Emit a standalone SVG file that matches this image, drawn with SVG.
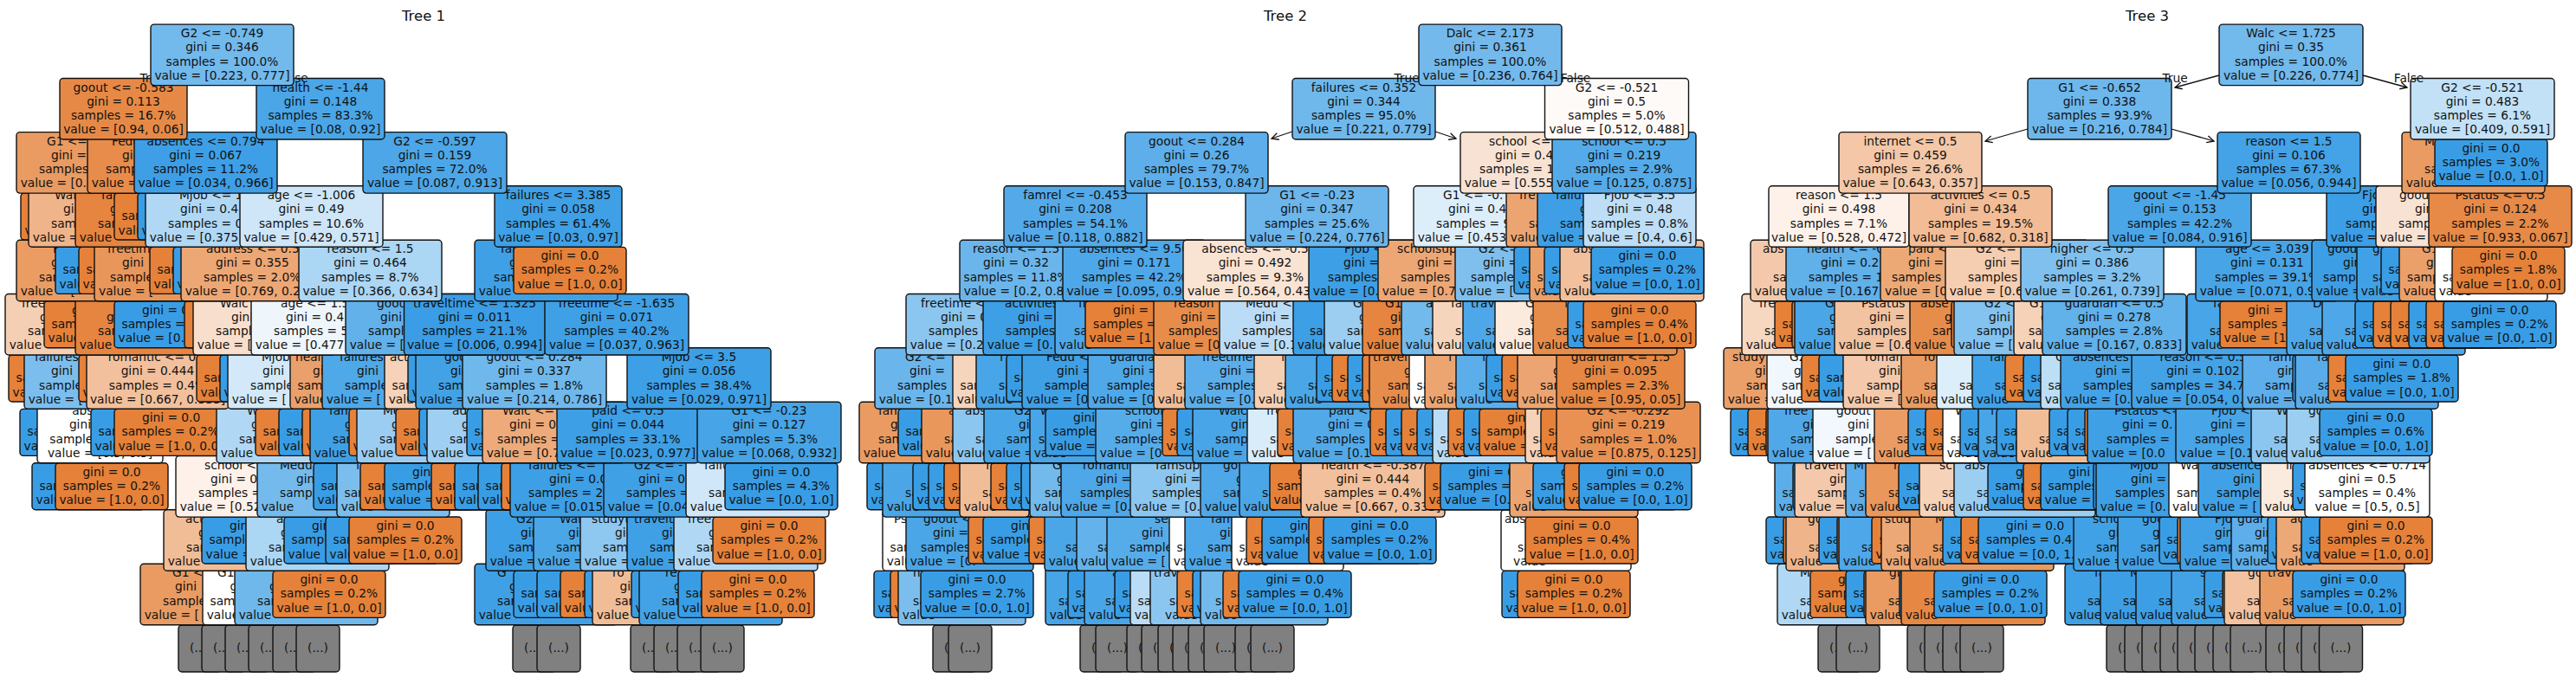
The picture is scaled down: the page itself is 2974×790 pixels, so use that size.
<svg xmlns="http://www.w3.org/2000/svg" width="2974" height="790" viewBox="0 0 2974 790">
<style>
text{font-family:"DejaVu Sans","Liberation Sans",sans-serif;font-size:13.75px;fill:#111}
rect{stroke:#111;stroke-width:1.4;rx:4px}
.c text,text.c{text-anchor:middle}
.o rect{fill:#e58139}
.b rect{fill:#399de5}
.k rect{fill:#808080}
.title{font-size:16.5px}
.arrow{stroke:#111;stroke-width:1.3;fill:none;marker-end:url(#ah)}
</style>
<defs><marker id="ah" markerUnits="userSpaceOnUse" markerWidth="12" markerHeight="12" refX="9" refY="5" orient="auto"><path d="M1 1 9 5 1 9" fill="none" stroke="#111" stroke-width="1.3"/></marker></defs>
<rect width="2974" height="790" style="fill:#fff;stroke:none;rx:0"/>
<text class="title c" x="489" y="24">Tree 1</text>
<text class="title c" x="1484" y="24">Tree 2</text>
<text class="title c" x="2479" y="24">Tree 3</text>
<g id="connectors">
<path class="arrow" d="M1492 152 1468 160"/>
<path class="arrow" d="M1657 152 1681 160"/>
<path class="arrow" d="M2562 87 2511 101"/>
<path class="arrow" d="M2728 87 2779 101"/>
<path class="arrow" d="M2341 149 2292 163"/>
<path class="arrow" d="M2507 149 2556 163"/>
</g>
<g id="tree1">
<g id="a11-1" class="k c" transform="translate(231 749)"><rect x="-25" y="-27" width="50" height="54"/><text y="4">(...)</text></g>
<g id="a11-2" class="k c" transform="translate(258 749)"><rect x="-25" y="-27" width="50" height="54"/><text y="4">(...)</text></g>
<g id="a11-3" class="k c" transform="translate(285 749)"><rect x="-25" y="-27" width="50" height="54"/><text y="4">(...)</text></g>
<g id="a11-4" class="k c" transform="translate(312 749)"><rect x="-25" y="-27" width="50" height="54"/><text y="4">(...)</text></g>
<g id="a11-5" class="k c" transform="translate(340 749)"><rect x="-25" y="-27" width="50" height="54"/><text y="4">(...)</text></g>
<g id="a11-6" class="k c" transform="translate(367 749)"><rect x="-25" y="-27" width="50" height="54"/><text y="4">(...)</text></g>
<g id="a11-7" class="k c" transform="translate(617 749)"><rect x="-25" y="-27" width="50" height="54"/><text y="4">(...)</text></g>
<g id="a11-8" class="k c" transform="translate(645 749)"><rect x="-25" y="-27" width="50" height="54"/><text y="4">(...)</text></g>
<g id="a11-9" class="k c" transform="translate(753 749)"><rect x="-25" y="-27" width="50" height="54"/><text y="4">(...)</text></g>
<g id="a11-10" class="k c" transform="translate(780 749)"><rect x="-25" y="-27" width="50" height="54"/><text y="4">(...)</text></g>
<g id="a11-11" class="k c" transform="translate(807 749)"><rect x="-25" y="-27" width="50" height="54"/><text y="4">(...)</text></g>
<g id="a11-12" class="k c" transform="translate(834 749)"><rect x="-25" y="-27" width="50" height="54"/><text y="4">(...)</text></g>

<g id="a10-1" transform="translate(162 686.4)"><rect width="165" height="70.5" y="-35.2" fill="#e99b62"/><text x="37" y="-20">G1 &lt;</text><text x="40" y="-4">gini</text><text x="26" y="12.5">samples</text><text x="4.7" y="28.5">value = [</text></g>
<g id="a10-2" transform="translate(234 686.4)"><rect width="130" height="70.5" y="-35.2" fill="#fff"/><text x="17" y="-20">G1</text><text x="31.5" y="-4">gini</text><text x="8.5" y="12.5">samples</text><text x="4.7" y="28.5">value</text></g>
<g id="a10-3" transform="translate(271 686.4)"><rect width="165" height="70.5" y="-35.2" fill="#6fb8ec"/><text x="40" y="-4">gini</text><text x="26" y="12.5">samples</text><text x="4.7" y="28.5">value</text></g>
<g id="a10-4" class="o c" transform="translate(380 686.4)"><rect x="-65" y="-27" width="130" height="54"/><text y="-12">gini = 0.0</text><text y="4">samples = 0.2%</text><text y="20.5">value = [1.0, 0.0]</text></g>
<g id="a10-5" transform="translate(548 686.4)"><rect width="165" height="70.5" y="-35.2" fill="#3fa0e6"/><text x="26" y="-20">G</text><text x="40" y="-4">gini</text><text x="26" y="12.5">samples</text><text x="4.7" y="28.5">value =</text></g>
<g id="a10-6" class="b" transform="translate(593 686.4)"><rect width="130" height="54" y="-27"/><text x="8.5" y="4">samples</text><text x="4.5" y="20.5">value</text></g>
<g id="a10-7" class="b" transform="translate(620 686.4)"><rect width="130" height="54" y="-27"/><text x="8.5" y="4">samples</text><text x="4.5" y="20.5">value</text></g>
<g id="a10-8" class="o" transform="translate(647 686.4)"><rect width="130" height="54" y="-27"/><text x="8.5" y="4">samples</text><text x="4.5" y="20.5">value</text></g>
<g id="a10-9" class="b" transform="translate(675 686.4)"><rect width="130" height="54" y="-27"/><text x="4.5" y="20.5">value</text></g>
<g id="a10-10" transform="translate(684 686.4)"><rect width="130" height="70.5" y="-35.2" fill="#f1bd97"/><text x="23" y="-20">ro</text><text x="31.5" y="-4">gini</text><text x="26" y="12.5">samples</text><text x="4.7" y="28.5">value</text></g>
<g id="a10-11" class="b" transform="translate(729 686.4)"><rect width="130" height="54" y="-27"/><text x="4.5" y="20.5">value</text></g>
<g id="a10-12" transform="translate(738 686.4)"><rect width="165" height="70.5" y="-35.2" fill="#43a2e6"/><text x="30" y="-20">re</text><text x="40" y="-4">gini</text><text x="26" y="12.5">samples</text><text x="4.7" y="28.5">value =</text></g>
<g id="a10-13" class="b" transform="translate(783 686.4)"><rect width="130" height="54" y="-27"/><text x="8.5" y="4">samples</text><text x="4.5" y="20.5">value</text></g>
<g id="a10-14" class="o c" transform="translate(875 686.4)"><rect x="-65" y="-27" width="130" height="54"/><text y="-12">gini = 0.0</text><text y="4">samples = 0.2%</text><text y="20.5">value = [1.0, 0.0]</text></g>

<g id="a9-1" transform="translate(189 624)"><rect width="165" height="70.5" y="-35.2" fill="#f1bd97"/><text x="25" y="-20">acti</text><text x="40" y="-4">gini</text><text x="26" y="12.5">samples</text><text x="4.7" y="28.5">value</text></g>
<g id="a9-2" class="b" transform="translate(233 624)"><rect width="130" height="54" y="-27"/><text x="32" y="-12">gini</text><text x="8.5" y="4">samples</text><text x="4.5" y="20.5">value =</text></g>
<g id="a9-3" transform="translate(284 624)"><rect width="165" height="70.5" y="-35.2" fill="#abd6f4"/><text x="35" y="-20">a</text><text x="40" y="-4">gini</text><text x="26" y="12.5">samples</text><text x="4.7" y="28.5">value</text></g>
<g id="a9-4" class="b" transform="translate(328 624)"><rect width="130" height="54" y="-27"/><text x="32" y="-12">gini</text><text x="8.5" y="4">samples</text><text x="4.5" y="20.5">value</text></g>
<g id="a9-5" class="b" transform="translate(376 624)"><rect width="130" height="54" y="-27"/><text x="8.5" y="4">samples</text><text x="4.5" y="20.5">value</text></g>
<g id="a9-6" class="o c" transform="translate(468 624)"><rect x="-65" y="-27" width="130" height="54"/><text y="-12">gini = 0.0</text><text y="4">samples = 0.2%</text><text y="20.5">value = [1.0, 0.0]</text></g>
<g id="a9-7" transform="translate(561 624)"><rect width="165" height="70.5" y="-35.2" fill="#3d9fe5"/><text x="35" y="-20">G2</text><text x="40" y="-4">gini</text><text x="26" y="12.5">samples</text><text x="4.7" y="28.5">value =</text></g>
<g id="a9-8" transform="translate(616 624)"><rect width="165" height="70.5" y="-35.2" fill="#4aa6e7"/><text x="30" y="-20">Walc</text><text x="40" y="-4">gini</text><text x="26" y="12.5">samples</text><text x="4.7" y="28.5">value =</text></g>
<g id="a9-9" transform="translate(670 624)"><rect width="165" height="70.5" y="-35.2" fill="#8ec7f0"/><text x="13" y="-20">studyt</text><text x="40" y="-4">gini</text><text x="26" y="12.5">samples</text><text x="4.7" y="28.5">value =</text></g>
<g id="a9-10" transform="translate(724 624)"><rect width="165" height="70.5" y="-35.2" fill="#3fa0e6"/><text x="8" y="-20">travelt</text><text x="40" y="-4">gini</text><text x="26" y="12.5">samples</text><text x="4.7" y="28.5">value =</text></g>
<g id="a9-11" transform="translate(778 624)"><rect width="166" height="70.5" y="-35.2" fill="#b0d8f5"/><text x="16" y="-20">free</text><text x="40" y="-4">gini</text><text x="26" y="12.5">samples</text><text x="4.7" y="28.5">value =</text></g>
<g id="a9-12" class="o c" transform="translate(888 624)"><rect x="-65" y="-27" width="130" height="54"/><text y="-12">gini = 0.0</text><text y="4">samples = 0.2%</text><text y="20.5">value = [1.0, 0.0]</text></g>

<g id="a8-1" class="b" transform="translate(37 561.8)"><rect width="130" height="54" y="-27"/><text x="8.5" y="4">samples</text><text x="4.5" y="20.5">value</text></g>
<g id="a8-2" class="o c" transform="translate(129 561.8)"><rect x="-65" y="-27" width="130" height="54"/><text y="-12">gini = 0.0</text><text y="4">samples = 0.2%</text><text y="20.5">value = [1.0, 0.0]</text></g>
<g id="a8-3" transform="translate(203 561.8)"><rect width="165" height="70.5" y="-35.2" fill="#fdf1ea"/><text x="33" y="-20">school &lt;</text><text x="40" y="-4">gini = 0</text><text x="26" y="12.5">samples =</text><text x="4.7" y="28.5">value = [0.52</text></g>
<g id="a8-4" transform="translate(297 561.8)"><rect width="165" height="70.5" y="-35.2" fill="#74baed"/><text x="26" y="-20">Medu</text><text x="45" y="-4">gini</text><text x="26" y="12.5">samples</text><text x="4.7" y="28.5">value</text></g>
<g id="a8-5" class="b" transform="translate(362 561.8)"><rect width="130" height="54" y="-27"/><text x="8.5" y="4">samples</text><text x="4.5" y="20.5">value</text></g>
<g id="a8-6" transform="translate(389 561.8)"><rect width="130" height="70.5" y="-35.2" fill="#7bbeee"/><text x="22" y="-20">fa</text><text x="8.5" y="12.5">samples</text><text x="4.7" y="28.5">value</text></g>
<g id="a8-7" class="o" transform="translate(416 561.8)"><rect width="130" height="54" y="-27"/><text x="8.5" y="4">samples</text><text x="4.5" y="20.5">value</text></g>
<g id="a8-8" class="b" transform="translate(444 561.8)"><rect width="130" height="54" y="-27"/><text x="32" y="-12">gini</text><text x="8.5" y="4">samples</text><text x="4.5" y="20.5">value =</text></g>
<g id="a8-9" class="o" transform="translate(498 561.8)"><rect width="130" height="54" y="-27"/><text x="8.5" y="4">samples</text><text x="4.5" y="20.5">value</text></g>
<g id="a8-10" class="b" transform="translate(525 561.8)"><rect width="130" height="54" y="-27"/><text x="8.5" y="4">samples</text><text x="4.5" y="20.5">value</text></g>
<g id="a8-11" class="b" transform="translate(552 561.8)"><rect width="130" height="54" y="-27"/><text x="8.5" y="4">samples</text><text x="4.5" y="20.5">value</text></g>
<g id="a8-12" class="o" transform="translate(579 561.8)"><rect width="130" height="54" y="-27"/><text x="4.5" y="20.5">value</text></g>
<g id="a8-13" transform="translate(589 561.8)"><rect width="165" height="70.5" y="-35.2" fill="#3d9fe5"/><text x="21" y="-20">failures &lt;=</text><text x="45" y="-4">gini = 0.0</text><text x="21" y="12.5">samples = 2</text><text x="4.7" y="28.5">value = [0.015</text></g>
<g id="a8-14" transform="translate(697 561.8)"><rect width="165" height="70.5" y="-35.2" fill="#3fa0e6"/><text x="35" y="-20">G2 &lt;= -</text><text x="40" y="-4">gini = 0</text><text x="26" y="12.5">samples =</text><text x="4.7" y="28.5">value = [0.04</text></g>
<g id="a8-15" transform="translate(792 561.8)"><rect width="165" height="70.5" y="-35.2" fill="#d0e7f9"/><text x="21" y="-20">failu</text><text x="26" y="12.5">samples</text><text x="4.7" y="28.5">value</text></g>
<g id="a8-16" class="b c" transform="translate(902 561.8)"><rect x="-65" y="-27" width="130" height="54"/><text y="-12">gini = 0.0</text><text y="4">samples = 4.3%</text><text y="20.5">value = [0.0, 1.0]</text></g>

<g id="a7-1" class="b" transform="translate(23 499.4)"><rect width="130" height="54" y="-27"/><text x="8.5" y="4">samples</text><text x="4.5" y="20.5">value</text></g>
<g id="a7-2" class="c" transform="translate(115.5 499.4)"><rect x="-72.5" width="145" height="70.5" y="-35.2" fill="#fff"/><text y="-20">absences</text><text x="-2" y="-4">gini = 0.5</text><text x="-2" y="12.5">samples = 0.4%</text><text y="28.5">value = [0.5, 0.5]</text></g>
<g id="a7-3" class="b" transform="translate(105 499.4)"><rect width="130" height="54" y="-27"/><text x="8.5" y="4">samples</text><text x="4.5" y="20.5">value</text></g>
<g id="a7-4" class="o" transform="translate(132 499.4)"><rect width="130" height="54" y="-27"/><text x="32" y="-12">gini = 0.0</text><text x="8.5" y="4">samples = 0.2%</text><text x="4.5" y="20.5">value = [1.0, 0.0]</text></g>
<g id="a7-5" transform="translate(250 499.4)"><rect width="165" height="70.5" y="-35.2" fill="#b0d8f5"/><text x="35" y="-20">Walc</text><text x="40" y="-4">gini</text><text x="26" y="12.5">samples</text><text x="4.7" y="28.5">value</text></g>
<g id="a7-6" class="o" transform="translate(295 499.4)"><rect width="130" height="54" y="-27"/><text x="8.5" y="4">samples</text><text x="4.5" y="20.5">value</text></g>
<g id="a7-7" class="b" transform="translate(322 499.4)"><rect width="130" height="54" y="-27"/><text x="8.5" y="4">samples</text><text x="4.5" y="20.5">value</text></g>
<g id="a7-8" class="o" transform="translate(349 499.4)"><rect width="130" height="54" y="-27"/><text x="4.5" y="20.5">value</text></g>
<g id="a7-9" transform="translate(358 499.4)"><rect width="165" height="70.5" y="-35.2" fill="#3fa0e6"/><text x="22" y="-20">fam</text><text x="40" y="-4">gini</text><text x="26" y="12.5">samples</text><text x="4.7" y="28.5">value</text></g>
<g id="a7-10" class="o" transform="translate(403 499.4)"><rect width="130" height="54" y="-27"/><text x="4.5" y="20.5">value</text></g>
<g id="a7-11" transform="translate(412 499.4)"><rect width="165" height="70.5" y="-35.2" fill="#9bcdf2"/><text x="30" y="-20">Me</text><text x="40" y="-4">gini</text><text x="26" y="12.5">samples</text><text x="4.7" y="28.5">value</text></g>
<g id="a7-12" class="o" transform="translate(457 499.4)"><rect width="130" height="54" y="-27"/><text x="8.5" y="4">samples</text><text x="4.5" y="20.5">value</text></g>
<g id="a7-13" class="b" transform="translate(484 499.4)"><rect width="130" height="54" y="-27"/><text x="4.5" y="20.5">value</text></g>
<g id="a7-14" transform="translate(493 499.4)"><rect width="165" height="70.5" y="-35.2" fill="#9fcff3"/><text x="29" y="-20">ad</text><text x="40" y="-4">gini</text><text x="26" y="12.5">samples</text><text x="4.7" y="28.5">value</text></g>
<g id="a7-15" class="b" transform="translate(539 499.4)"><rect width="130" height="54" y="-27"/><text x="8.5" y="4">samples</text><text x="4.5" y="20.5">value</text></g>
<g id="a7-16" transform="translate(557 499.4)"><rect width="165" height="70.5" y="-35.2" fill="#eeaa7a"/><text x="23" y="-20">Walc &lt;=</text><text x="31" y="-4">gini = 0</text><text x="17" y="12.5">samples =</text><text x="4.7" y="28.5">value = [0.7</text></g>
<g id="a7-17" class="c" transform="translate(725 499.4)"><rect x="-82" width="164" height="70.5" y="-35.2" fill="#3d9fe5"/><text y="-20">paid &lt;= 0.5</text><text y="-4">gini = 0.044</text><text y="12.5">samples = 33.1%</text><text y="28.5">value = [0.023, 0.977]</text></g>
<g id="a7-18" class="c" transform="translate(888 499.4)"><rect x="-83" width="166" height="70.5" y="-35.2" fill="#46a4e7"/><text y="-20">G1 &lt;= -0.23</text><text y="-4">gini = 0.127</text><text y="12.5">samples = 5.3%</text><text y="28.5">value = [0.068, 0.932]</text></g>

<g id="a6-1" class="o" transform="translate(10 437)"><rect width="130" height="54" y="-27"/><text x="8.5" y="4">samples</text><text x="4.5" y="20.5">value</text></g>
<g id="a6-2" transform="translate(28 437)"><rect width="165" height="70.5" y="-35.2" fill="#7bbeee"/><text x="12" y="-20">failures</text><text x="31" y="-4">gini</text><text x="17" y="12.5">samples</text><text x="4.7" y="28.5">value = [</text></g>
<g id="a6-3" class="o" transform="translate(91 437)"><rect width="130" height="54" y="-27"/><text x="4.5" y="20.5">value</text></g>
<g id="a6-4" class="c" transform="translate(182 437)"><rect x="-82" width="164" height="70.5" y="-35.2" fill="#f2c09c"/><text x="0" y="-20">romantic &lt;= 0.5</text><text y="-4">gini = 0.444</text><text y="12.5">samples = 0.4%</text><text y="28.5">value = [0.667, 0.333]</text></g>
<g id="a6-5" class="o" transform="translate(227 437)"><rect width="130" height="54" y="-27"/><text x="8.5" y="4">samples</text><text x="4.5" y="20.5">value</text></g>
<g id="a6-6" class="b" transform="translate(254 437)"><rect width="130" height="54" y="-27"/><text x="4.5" y="20.5">value</text></g>
<g id="a6-7" transform="translate(263 437)"><rect width="165" height="70.5" y="-35.2" fill="#d3e9f9"/><text x="39" y="-20">Mjob</text><text x="40" y="-4">gini</text><text x="26" y="12.5">samples</text><text x="4.7" y="28.5">value = [</text></g>
<g id="a6-8" transform="translate(335 437)"><rect width="165" height="70.5" y="-35.2" fill="#e9a06c"/><text x="6" y="-20">heal</text><text x="26" y="-4">gini</text><text x="8.5" y="12.5">samples</text><text x="4.7" y="28.5">value</text></g>
<g id="a6-9" transform="translate(372 437)"><rect width="165" height="70.5" y="-35.2" fill="#4fa8e8"/><text x="20" y="-20">failures</text><text x="40" y="-4">gini</text><text x="26" y="12.5">samples</text><text x="4.7" y="28.5">value = [</text></g>
<g id="a6-10" transform="translate(444 437)"><rect width="130" height="70.5" y="-35.2" fill="#f5d2b8"/><text x="6" y="-20">act</text><text x="8.5" y="12.5">samples</text><text x="4.7" y="28.5">value</text></g>
<g id="a6-11" class="b" transform="translate(471 437)"><rect width="130" height="54" y="-27"/><text x="8.5" y="4">samples</text><text x="4.5" y="20.5">value</text></g>
<g id="a6-12" transform="translate(480 437)"><rect width="165" height="70.5" y="-35.2" fill="#43a2e6"/><text x="33" y="-20">goo</text><text x="40" y="-4">gini</text><text x="26" y="12.5">samples</text><text x="4.7" y="28.5">value =</text></g>
<g id="a6-13" class="c" transform="translate(617 437)"><rect x="-83" width="166" height="70.5" y="-35.2" fill="#6fb8ec"/><text y="-20">goout &lt;= 0.284</text><text y="-4">gini = 0.337</text><text y="12.5">samples = 1.8%</text><text y="28.5">value = [0.214, 0.786]</text></g>
<g id="a6-14" class="c" transform="translate(807 437)"><rect x="-83" width="166" height="70.5" y="-35.2" fill="#3d9fe5"/><text y="-20">Mjob &lt;= 3.5</text><text y="-4">gini = 0.056</text><text y="12.5">samples = 38.4%</text><text y="28.5">value = [0.029, 0.971]</text></g>

<g id="a5-1" transform="translate(6 374.7)"><rect width="165" height="70.5" y="-35.2" fill="#f5cfb3"/><text x="19" y="-20">free</text><text x="40" y="-4">gini</text><text x="26" y="12.5">samples</text><text x="4.7" y="28.5">value</text></g>
<g id="a5-2" class="o" transform="translate(51 374.7)"><rect width="130" height="54" y="-27"/><text x="32" y="-12">gini</text><text x="8.5" y="4">samples</text><text x="4.5" y="20.5">value</text></g>
<g id="a5-3" transform="translate(87 374.7)"><rect width="165" height="70.5" y="-35.2" fill="#e68540"/><text x="36" y="-4">gini</text><text x="26" y="12.5">samples</text><text x="4.7" y="28.5">value</text></g>
<g id="a5-4" class="b" transform="translate(132 374.7)"><rect width="130" height="54" y="-27"/><text x="32" y="-12">gini = 0.0</text><text x="8.5" y="4">samples = 0</text><text x="4.5" y="20.5">value = [0.</text></g>
<g id="a5-5" class="o" transform="translate(213 374.7)"><rect width="130" height="54" y="-27"/></g>
<g id="a5-6" transform="translate(223 374.7)"><rect width="165" height="70.5" y="-35.2" fill="#f8dfcd"/><text x="31" y="-20">Walc</text><text x="44" y="-4">gini</text><text x="26" y="12.5">samples</text><text x="4.7" y="28.5">value = [</text></g>
<g id="a5-7" transform="translate(290 374.7)"><rect width="165" height="70.5" y="-35.2" fill="#eef6fc"/><text x="34" y="-20">age &lt;= 1.5</text><text x="40" y="-4">gini = 0.4</text><text x="26" y="12.5">samples = 5</text><text x="4.7" y="28.5">value = [0.477</text></g>
<g id="a5-8" transform="translate(399 374.7)"><rect width="165" height="70.5" y="-35.2" fill="#62b1ea"/><text x="36" y="-20">goout</text><text x="40" y="-4">gini</text><text x="26" y="12.5">samples</text><text x="4.7" y="28.5">value = [</text></g>
<g id="a5-9" class="c" transform="translate(548 374.7)"><rect x="-81.5" width="163" height="70.5" y="-35.2" fill="#3a9de5"/><text y="-20">traveltime &lt;= 1.325</text><text y="-4">gini = 0.011</text><text y="12.5">samples = 21.1%</text><text y="28.5">value = [0.006, 0.994]</text></g>
<g id="a5-10" class="c" transform="translate(712 374.7)"><rect x="-83" width="166" height="70.5" y="-35.2" fill="#3fa0e6"/><text y="-20">freetime &lt;= -1.635</text><text y="-4">gini = 0.071</text><text y="12.5">samples = 40.2%</text><text y="28.5">value = [0.037, 0.963]</text></g>

<g id="a4-1" transform="translate(19 312.4)"><rect width="165" height="70.5" y="-35.2" fill="#ea9c63"/><text x="42" y="-20">K</text><text x="40" y="-4">gini</text><text x="26" y="12.5">samples</text><text x="4.7" y="28.5">value = [</text></g>
<g id="a4-2" class="b" transform="translate(64 312.4)"><rect width="130" height="54" y="-27"/><text x="8.5" y="4">samples</text><text x="4.5" y="20.5">value</text></g>
<g id="a4-3" class="o" transform="translate(91 312.4)"><rect width="130" height="54" y="-27"/><text x="8.5" y="4">samples</text><text x="4.5" y="20.5">value</text></g>
<g id="a4-4" transform="translate(109 312.4)"><rect width="165" height="70.5" y="-35.2" fill="#e9965a"/><text x="15" y="-20">freetime</text><text x="32" y="-4">gini</text><text x="18" y="12.5">samples</text><text x="5" y="28.5">value = [</text></g>
<g id="a4-5" class="o" transform="translate(173 312.4)"><rect width="130" height="54" y="-27"/><text x="8.5" y="4">samples</text><text x="4.5" y="20.5">value</text></g>
<g id="a4-6" class="b" transform="translate(200 312.4)"><rect width="130" height="54" y="-27"/><text x="4.5" y="20.5">value</text></g>
<g id="a4-7" transform="translate(209 312.4)"><rect width="165" height="70.5" y="-35.2" fill="#eda774"/><text x="29" y="-20">address &lt;= 0.5</text><text x="40" y="-4">gini = 0.355</text><text x="26" y="12.5">samples = 2.0%</text><text x="4.7" y="28.5">value = [0.769, 0.231]</text></g>
<g id="a4-8" class="c" transform="translate(427.5 312.4)"><rect x="-82.5" width="165" height="70.5" y="-35.2" fill="#abd6f4"/><text y="-20">reason &lt;= 1.5</text><text y="-4">gini = 0.464</text><text y="12.5">samples = 8.7%</text><text y="28.5">value = [0.366, 0.634]</text></g>
<g id="a4-9" transform="translate(548 312.4)"><rect width="165" height="70.5" y="-35.2" fill="#3fa0e6"/><text x="30" y="-20">fam</text><text x="40" y="-4">gini</text><text x="22" y="12.5">samples</text><text x="4.7" y="28.5">value</text></g>
<g id="a4-10" class="o c" transform="translate(658 312.4)"><rect x="-65" y="-27" width="130" height="54"/><text y="-12">gini = 0.0</text><text y="4">samples = 0.2%</text><text y="20.5">value = [1.0, 0.0]</text></g>

<g id="a3-1" class="o" transform="translate(24 250)"><rect width="130" height="54" y="-27"/><text x="4.5" y="20.5">value</text></g>
<g id="a3-2" transform="translate(33 250)"><rect width="165" height="70.5" y="-35.2" fill="#f0b48a"/><text x="30" y="-20">Walc</text><text x="40" y="-4">gini</text><text x="26" y="12.5">samples</text><text x="4.7" y="28.5">value =</text></g>
<g id="a3-3" transform="translate(87 250)"><rect width="165" height="70.5" y="-35.2" fill="#e68540"/><text x="30" y="-20">fam</text><text x="40" y="-4">gini</text><text x="26" y="12.5">samples</text><text x="4.7" y="28.5">value</text></g>
<g id="a3-4" class="o" transform="translate(132 250)"><rect width="130" height="54" y="-27"/><text x="8.5" y="4">samples</text><text x="4.5" y="20.5">value</text></g>
<g id="a3-5" class="b" transform="translate(159 250)"><rect width="130" height="54" y="-27"/><text x="8.5" y="4">samples</text><text x="4.5" y="20.5">value</text></g>
<g id="a3-6" transform="translate(168 250)"><rect width="165" height="70.5" y="-35.2" fill="#b0d8f5"/><text x="39" y="-20">Mjob &lt;= 1</text><text x="40" y="-4">gini = 0.4</text><text x="26" y="12.5">samples = 0</text><text x="4.7" y="28.5">value = [0.375</text></g>
<g id="a3-7" class="c" transform="translate(359.5 250)"><rect x="-82.5" width="165" height="70.5" y="-35.2" fill="#cee6f8"/><text y="-20">age &lt;= -1.006</text><text y="-4">gini = 0.49</text><text y="12.5">samples = 10.6%</text><text y="28.5">value = [0.429, 0.571]</text></g>
<g id="a3-8" class="c" transform="translate(644.5 250)"><rect x="-73.5" width="147" height="70.5" y="-35.2" fill="#3fa0e6"/><text y="-20">failures &lt;= 3.385</text><text y="-4">gini = 0.058</text><text y="12.5">samples = 61.4%</text><text y="28.5">value = [0.03, 0.97]</text></g>

<g id="a2-1" transform="translate(19 187.8)"><rect width="146" height="70.5" y="-35.2" fill="#e99b62"/><text x="35" y="-20">G1 &lt;=</text><text x="40" y="-4">gini =</text><text x="26" y="12.5">samples</text><text x="4.7" y="28.5">value = [0.</text></g>
<g id="a2-2" transform="translate(101 187.8)"><rect width="146" height="70.5" y="-35.2" fill="#e78c4a"/><text x="28" y="-20">Fedu</text><text x="40" y="-4">gini</text><text x="21" y="12.5">samples</text><text x="4.7" y="28.5">value =</text></g>
<g id="a2-3" class="c" transform="translate(237.5 187.8)"><rect x="-82.5" width="165" height="70.5" y="-35.2" fill="#3e9fe6"/><text y="-20">absences &lt;= 0.794</text><text y="-4">gini = 0.067</text><text y="12.5">samples = 11.2%</text><text y="28.5">value = [0.034, 0.966]</text></g>
<g id="a2-4" class="c" transform="translate(502 187.8)"><rect x="-83" width="166" height="70.5" y="-35.2" fill="#4ca6e7"/><text y="-20">G2 &lt;= -0.597</text><text y="-4">gini = 0.159</text><text y="12.5">samples = 72.0%</text><text y="28.5">value = [0.087, 0.913]</text></g>

<g id="a1-1" class="c" transform="translate(142.5 125.7)"><rect x="-73.5" width="147" height="70.5" y="-35.2" fill="#e78946"/><text y="-20">goout &lt;= -0.583</text><text y="-4">gini = 0.113</text><text y="12.5">samples = 16.7%</text><text y="28.5">value = [0.94, 0.06]</text></g>
<g id="a1-2" class="c" transform="translate(370 125.7)"><rect x="-74" width="148" height="70.5" y="-35.2" fill="#4aa6e7"/><text y="-20">health &lt;= -1.44</text><text y="-4">gini = 0.148</text><text y="12.5">samples = 83.3%</text><text y="28.5">value = [0.08, 0.92]</text></g>
<text class="c" x="176" y="95">True</text>
<text class="c" x="338.5" y="95">False</text>
<g id="a0-1" class="c" transform="translate(256.5 63.3)"><rect x="-82.5" width="165" height="70.5" y="-35.2" fill="#72b9ec"/><text y="-20">G2 &lt;= -0.749</text><text y="-4">gini = 0.346</text><text y="12.5">samples = 100.0%</text><text y="28.5">value = [0.223, 0.777]</text></g>
</g>

<g id="tree2">
<g id="b11-1" class="k c" transform="translate(1102 749)"><rect x="-25" y="-27" width="50" height="54"/><text y="4">(...)</text></g>
<g id="b11-2" class="k c" transform="translate(1120 749)"><rect x="-25" y="-27" width="50" height="54"/><text y="4">(...)</text></g>
<g id="b11-3" class="k c" transform="translate(1272 749)"><rect x="-25" y="-27" width="50" height="54"/><text y="4">(...)</text></g>
<g id="b11-4" class="k c" transform="translate(1290 749)"><rect x="-25" y="-27" width="50" height="54"/><text y="4">(...)</text></g>
<g id="b11-5" class="k c" transform="translate(1326 749)"><rect x="-25" y="-27" width="50" height="54"/><text y="4">(...)</text></g>
<g id="b11-6" class="k c" transform="translate(1343 749)"><rect x="-25" y="-27" width="50" height="54"/><text y="4">(...)</text></g>
<g id="b11-7" class="k c" transform="translate(1362 749)"><rect x="-25" y="-27" width="50" height="54"/><text y="4">(...)</text></g>
<g id="b11-8" class="k c" transform="translate(1379 749)"><rect x="-25" y="-27" width="50" height="54"/><text y="4">(...)</text></g>
<g id="b11-9" class="k c" transform="translate(1397 749)"><rect x="-25" y="-27" width="50" height="54"/><text y="4">(...)</text></g>
<g id="b11-10" class="k c" transform="translate(1415 749)"><rect x="-25" y="-27" width="50" height="54"/><text y="4">(...)</text></g>
<g id="b11-11" class="k c" transform="translate(1451 749)"><rect x="-25" y="-27" width="50" height="54"/><text y="4">(...)</text></g>
<g id="b11-12" class="k c" transform="translate(1469 749)"><rect x="-25" y="-27" width="50" height="54"/><text y="4">(...)</text></g>

<g id="b10-1" class="b" transform="translate(1009 686.4)"><rect width="130" height="54" y="-27"/><text x="8.5" y="4">samples</text><text x="4.5" y="20.5">value</text></g>
<g id="b10-2" class="o" transform="translate(1028 686.4)"><rect width="130" height="54" y="-27"/><text x="4.5" y="20.5">value</text></g>
<g id="b10-3" transform="translate(1037 686.4)"><rect width="147" height="70.5" y="-35.2" fill="#7bbeee"/><text x="17" y="-20">m</text><text x="17" y="12.5">samples</text><text x="4.7" y="28.5">value</text></g>
<g id="b10-4" class="b c" transform="translate(1128 686.4)"><rect x="-65" y="-27" width="130" height="54"/><text y="-12">gini = 0.0</text><text y="4">samples = 2.7%</text><text y="20.5">value = [0.0, 1.0]</text></g>
<g id="b10-5" transform="translate(1207 686.4)"><rect width="165" height="70.5" y="-35.2" fill="#46a4e7"/><text x="15" y="12.5">samples</text><text x="4.7" y="28.5">value</text></g>
<g id="b10-6" class="b" transform="translate(1233 686.4)"><rect width="130" height="54" y="-27"/><text x="8.5" y="4">samples</text><text x="4.5" y="20.5">value</text></g>
<g id="b10-7" transform="translate(1252 686.4)"><rect width="165" height="70.5" y="-35.2" fill="#48a5e7"/><text x="32" y="-20">a</text><text x="24" y="12.5">samples</text><text x="4.7" y="28.5">value</text></g>
<g id="b10-8" class="b" transform="translate(1287 686.4)"><rect width="130" height="54" y="-27"/><text x="8.5" y="4">samples</text><text x="4.5" y="20.5">value</text></g>
<g id="b10-9" transform="translate(1305 686.4)"><rect width="130" height="70.5" y="-35.2" fill="#bbdcf6"/><text x="8.5" y="12.5">samples</text><text x="4.7" y="28.5">value</text></g>
<g id="b10-10" transform="translate(1328 686.4)"><rect width="147" height="70.5" y="-35.2" fill="#8bc6f0"/><text x="4" y="-20">travel</text><text x="22" y="12.5">samples</text><text x="17" y="28.5">value</text></g>
<g id="b10-11" class="o" transform="translate(1359 686.4)"><rect width="130" height="54" y="-27"/><text x="8.5" y="4">samples</text><text x="4.5" y="20.5">value</text></g>
<g id="b10-12" class="b" transform="translate(1377 686.4)"><rect width="130" height="54" y="-27"/><text x="4.5" y="20.5">value</text></g>
<g id="b10-13" transform="translate(1386 686.4)"><rect width="147" height="70.5" y="-35.2" fill="#72b9ec"/><text x="17" y="12.5">samples</text><text x="4.7" y="28.5">value</text></g>
<g id="b10-14" class="o" transform="translate(1412 686.4)"><rect width="130" height="54" y="-27"/><text x="8.5" y="4">samples</text><text x="4.5" y="20.5">value</text></g>
<g id="b10-15" class="b c" transform="translate(1495 686.4)"><rect x="-65" y="-27" width="130" height="54"/><text y="-12">gini = 0.0</text><text y="4">samples = 0.4%</text><text y="20.5">value = [0.0, 1.0]</text></g>
<g id="b10-16" class="b" transform="translate(1734 686.4)"><rect width="130" height="54" y="-27"/><text x="8.5" y="4">samples</text><text x="4.5" y="20.5">value</text></g>
<g id="b10-17" class="o c" transform="translate(1817 686.4)"><rect x="-65" y="-27" width="130" height="54"/><text y="-12">gini = 0.0</text><text y="4">samples = 0.2%</text><text y="20.5">value = [1.0, 0.0]</text></g>

<g id="b9-1" transform="translate(1019 624)"><rect width="130" height="70.5" y="-35.2" fill="#fff"/><text x="13" y="-20">Ps</text><text x="8.5" y="12.5">samples</text><text x="4.7" y="28.5">value</text></g>
<g id="b9-2" transform="translate(1046 624)"><rect width="147" height="70.5" y="-35.2" fill="#4aa6e7"/><text x="20" y="-20">goout &lt;</text><text x="31" y="-4">gini =</text><text x="17" y="12.5">samples</text><text x="4.7" y="28.5">value = [0.</text></g>
<g id="b9-3" class="o" transform="translate(1118 624)"><rect width="130" height="54" y="-27"/><text x="8.5" y="4">samples</text><text x="4.5" y="20.5">value</text></g>
<g id="b9-4" class="b" transform="translate(1135 624)"><rect width="130" height="54" y="-27"/><text x="32" y="-12">gini</text><text x="8.5" y="4">samples</text><text x="4.5" y="20.5">value =</text></g>
<g id="b9-5" class="o" transform="translate(1188 624)"><rect width="130" height="54" y="-27"/><text x="8.5" y="4">samples</text><text x="4.5" y="20.5">value</text></g>
<g id="b9-6" transform="translate(1206 624)"><rect width="165" height="70.5" y="-35.2" fill="#4ba6e7"/><text x="24" y="12.5">samples</text><text x="4.7" y="28.5">value</text></g>
<g id="b9-7" transform="translate(1243 624)"><rect width="165" height="70.5" y="-35.2" fill="#63b2eb"/><text x="24" y="12.5">samples</text><text x="4.7" y="28.5">value</text></g>
<g id="b9-8" transform="translate(1278 624)"><rect width="165" height="70.5" y="-35.2" fill="#56ace9"/><text x="55" y="-20">sex</text><text x="40" y="-4">gini</text><text x="26" y="12.5">samples</text><text x="4.7" y="28.5">value = [</text></g>
<g id="b9-9" transform="translate(1350 624)"><rect width="130" height="70.5" y="-35.2" fill="#fff"/><text x="8.5" y="12.5">samples</text><text x="4.7" y="28.5">value</text></g>
<g id="b9-10" transform="translate(1368 624)"><rect width="165" height="70.5" y="-35.2" fill="#4ea7e8"/><text x="30" y="-20">fami</text><text x="40" y="-4">gini</text><text x="26" y="12.5">samples</text><text x="4.7" y="28.5">value =</text></g>
<g id="b9-11" transform="translate(1422 624)"><rect width="129" height="70.5" y="-35.2" fill="#fff"/><text x="8.5" y="12.5">samples</text><text x="4.7" y="28.5">value</text></g>
<g id="b9-12" class="o" transform="translate(1439 624)"><rect width="130" height="54" y="-27"/><text x="8.5" y="4">samples</text><text x="4.5" y="20.5">value</text></g>
<g id="b9-13" class="b" transform="translate(1457 624)"><rect width="130" height="54" y="-27"/><text x="32" y="-12">gini</text><text x="8.5" y="4">samples</text><text x="4.5" y="20.5">value</text></g>
<g id="b9-14" class="o" transform="translate(1511 624)"><rect width="130" height="54" y="-27"/><text x="8.5" y="4">samples</text><text x="4.5" y="20.5">value</text></g>
<g id="b9-15" class="b c" transform="translate(1593 624)"><rect x="-65" y="-27" width="130" height="54"/><text y="-12">gini = 0.0</text><text y="4">samples = 0.2%</text><text y="20.5">value = [0.0, 1.0]</text></g>
<g id="b9-16" transform="translate(1733 624)"><rect width="150" height="70.5" y="-35.2" fill="#fff"/><text x="4" y="-20">abs</text><text x="19" y="12.5">samples</text><text x="14" y="28.5">value</text></g>
<g id="b9-17" class="o c" transform="translate(1826 624)"><rect x="-65" y="-27" width="130" height="54"/><text y="-12">gini = 0.0</text><text y="4">samples = 0.4%</text><text y="20.5">value = [1.0, 0.0]</text></g>

<g id="b8-1" class="b" transform="translate(1001 561.8)"><rect width="130" height="54" y="-27"/><text x="8.5" y="4">samples</text><text x="4.5" y="20.5">value</text></g>
<g id="b8-2" transform="translate(1019 561.8)"><rect width="165" height="70.5" y="-35.2" fill="#4aa6e7"/><text x="26" y="12.5">samples</text><text x="4.7" y="28.5">value</text></g>
<g id="b8-3" class="b" transform="translate(1054 561.8)"><rect width="130" height="54" y="-27"/><text x="8.5" y="4">samples</text><text x="4.5" y="20.5">value</text></g>
<g id="b8-4" class="b" transform="translate(1072 561.8)"><rect width="130" height="54" y="-27"/><text x="8.5" y="4">samples</text><text x="4.5" y="20.5">value</text></g>
<g id="b8-5" class="o" transform="translate(1090 561.8)"><rect width="130" height="54" y="-27"/><text x="8.5" y="4">samples</text><text x="4.5" y="20.5">value</text></g>
<g id="b8-6" transform="translate(1108 561.8)"><rect width="80" height="70.5" y="-35.2" fill="#f1bd97"/><text x="30" y="-20">fr</text><text x="26" y="12.5">samples</text><text x="4.7" y="28.5">value</text></g>
<g id="b8-7" class="o" transform="translate(1144 561.8)"><rect width="130" height="54" y="-27"/><text x="8.5" y="4">samples</text><text x="4.5" y="20.5">value</text></g>
<g id="b8-8" class="b" transform="translate(1162 561.8)"><rect width="130" height="54" y="-27"/><text x="8.5" y="4">samples</text><text x="4.5" y="20.5">value</text></g>
<g id="b8-9" class="b" transform="translate(1179 561.8)"><rect width="130" height="54" y="-27"/><text x="4.5" y="20.5">value</text></g>
<g id="b8-10" transform="translate(1189 561.8)"><rect width="165" height="70.5" y="-35.2" fill="#72b9ec"/><text x="26" y="-20">G</text><text x="31" y="-4">gini</text><text x="17" y="12.5">samples</text><text x="4.7" y="28.5">value</text></g>
<g id="b8-11" transform="translate(1225 561.8)"><rect width="165" height="70.5" y="-35.2" fill="#4ea7e8"/><text x="25" y="-20">romanti</text><text x="40" y="-4">gini =</text><text x="22" y="12.5">samples</text><text x="4.7" y="28.5">value = [0.</text></g>
<g id="b8-12" transform="translate(1305 561.8)"><rect width="165" height="70.5" y="-35.2" fill="#8bc6f0"/><text x="29" y="-20">famsup</text><text x="40" y="-4">gini =</text><text x="25" y="12.5">samples</text><text x="4.7" y="28.5">value = [0.</text></g>
<g id="b8-13" transform="translate(1386 561.8)"><rect width="165" height="70.5" y="-35.2" fill="#4ea7e8"/><text x="26" y="-20">go</text><text x="41" y="-4">gini</text><text x="26" y="12.5">samples</text><text x="4.7" y="28.5">value</text></g>
<g id="b8-14" transform="translate(1431 561.8)"><rect width="165" height="70.5" y="-35.2" fill="#4aa6e7"/><text x="26" y="12.5">samples</text><text x="4.7" y="28.5">value</text></g>
<g id="b8-15" class="o" transform="translate(1466 561.8)"><rect width="130" height="54" y="-27"/><text x="32" y="-12">gini</text><text x="8.5" y="4">samples</text><text x="4.5" y="20.5">value</text></g>
<g id="b8-16" class="c" transform="translate(1585 561.8)"><rect x="-83" width="166" height="70.5" y="-35.2" fill="#f2c09c"/><text y="-20">health &lt;= -0.387</text><text y="-4">gini = 0.444</text><text y="12.5">samples = 0.4%</text><text y="28.5">value = [0.667, 0.333]</text></g>
<g id="b8-17" class="o" transform="translate(1645 561.8)"><rect width="130" height="54" y="-27"/><text x="8.5" y="4">samples</text><text x="4.5" y="20.5">value</text></g>
<g id="b8-18" class="b" transform="translate(1663 561.8)"><rect width="130" height="54" y="-27"/><text x="32" y="-12">gini = 0</text><text x="8.5" y="4">samples =</text><text x="4.5" y="20.5">value = [0.</text></g>
<g id="b8-19" transform="translate(1743 561.8)"><rect width="148" height="70.5" y="-35.2" fill="#eca571"/><text x="18" y="12.5">samples</text><text x="4.7" y="28.5">value</text></g>
<g id="b8-20" class="b" transform="translate(1770 561.8)"><rect width="130" height="54" y="-27"/><text x="32" y="-12">gini</text><text x="8.5" y="4">samples</text><text x="4.5" y="20.5">value</text></g>
<g id="b8-21" class="o" transform="translate(1806 561.8)"><rect width="130" height="54" y="-27"/><text x="8.5" y="4">samples</text><text x="4.5" y="20.5">value</text></g>
<g id="b8-22" class="b c" transform="translate(1888 561.8)"><rect x="-65" y="-27" width="130" height="54"/><text y="-12">gini = 0.0</text><text y="4">samples = 0.2%</text><text y="20.5">value = [0.0, 1.0]</text></g>

<g id="b7-1" transform="translate(992 499.4)"><rect width="147" height="70.5" y="-35.2" fill="#e99b62"/><text x="22" y="-20">fam</text><text x="36" y="-4">gini</text><text x="22" y="12.5">samples</text><text x="4.7" y="28.5">value</text></g>
<g id="b7-2" class="b" transform="translate(1037 499.4)"><rect width="130" height="54" y="-27"/><text x="8.5" y="4">samples</text><text x="4.5" y="20.5">value</text></g>
<g id="b7-3" transform="translate(1064 499.4)"><rect width="130" height="70.5" y="-35.2" fill="#e9975b"/><text x="31" y="-20">a</text><text x="26" y="12.5">samples</text><text x="4.7" y="28.5">value</text></g>
<g id="b7-4" transform="translate(1100 499.4)"><rect width="165" height="70.5" y="-35.2" fill="#8bc6f0"/><text x="14" y="-20">abs</text><text x="26" y="12.5">samples</text><text x="4.7" y="28.5">value</text></g>
<g id="b7-5" transform="translate(1136 499.4)"><rect width="165" height="70.5" y="-35.2" fill="#48a5e7"/><text x="35" y="-20">G2</text><text x="40" y="-4">gini</text><text x="26" y="12.5">samples</text><text x="4.7" y="28.5">value =</text></g>
<g id="b7-6" transform="translate(1189 499.4)"><rect width="165" height="70.5" y="-35.2" fill="#48a5e7"/><text x="12" y="-20">w</text><text x="10" y="12.5">samples</text><text x="4.7" y="28.5">value</text></g>
<g id="b7-7" class="b" transform="translate(1207 499.4)"><rect width="130" height="54" y="-27"/><text x="32" y="-12">gini</text><text x="8.5" y="4">samples</text><text x="4.5" y="20.5">value =</text></g>
<g id="b7-8" transform="translate(1265 499.4)"><rect width="165" height="70.5" y="-35.2" fill="#56ace9"/><text x="34" y="-20">school</text><text x="40" y="-4">gini =</text><text x="22" y="12.5">samples</text><text x="4.7" y="28.5">value = [0</text></g>
<g id="b7-9" class="o" transform="translate(1342 499.4)"><rect width="130" height="54" y="-27"/><text x="8.5" y="4">samples</text><text x="4.5" y="20.5">value</text></g>
<g id="b7-10" class="b" transform="translate(1359 499.4)"><rect width="130" height="54" y="-27"/><text x="8.5" y="4">samples</text><text x="4.5" y="20.5">value</text></g>
<g id="b7-11" transform="translate(1377 499.4)"><rect width="165" height="70.5" y="-35.2" fill="#48a5e7"/><text x="30" y="-20">Walc</text><text x="44" y="-4">gini</text><text x="26" y="12.5">samples</text><text x="4.7" y="28.5">value =</text></g>
<g id="b7-12" transform="translate(1440 499.4)"><rect width="165" height="70.5" y="-35.2" fill="#d9ecfa"/><text x="22" y="-20">fre</text><text x="26" y="12.5">samples</text><text x="4.7" y="28.5">value</text></g>
<g id="b7-13" class="o" transform="translate(1475 499.4)"><rect width="130" height="54" y="-27"/><text x="8.5" y="4">samples</text><text x="4.5" y="20.5">value</text></g>
<g id="b7-14" transform="translate(1493 499.4)"><rect width="165" height="70.5" y="-35.2" fill="#52a9e8"/><text x="41" y="-20">paid &lt;=</text><text x="40" y="-4">gini = 0</text><text x="26" y="12.5">samples</text><text x="4.7" y="28.5">value = [0.1</text></g>
<g id="b7-15" class="o" transform="translate(1582 499.4)"><rect width="130" height="54" y="-27"/><text x="8.5" y="4">samples</text><text x="4.5" y="20.5">value</text></g>
<g id="b7-16" class="b" transform="translate(1600 499.4)"><rect width="130" height="54" y="-27"/><text x="8.5" y="4">samples</text><text x="4.5" y="20.5">value</text></g>
<g id="b7-17" class="o" transform="translate(1618 499.4)"><rect width="130" height="54" y="-27"/><text x="8.5" y="4">samples</text><text x="4.5" y="20.5">value</text></g>
<g id="b7-18" class="b" transform="translate(1636 499.4)"><rect width="130" height="54" y="-27"/><text x="8.5" y="4">samples</text><text x="4.5" y="20.5">value</text></g>
<g id="b7-19" transform="translate(1654 499.4)"><rect width="130" height="70.5" y="-35.2" fill="#bbdcf6"/><text x="8.5" y="12.5">samples</text><text x="4.7" y="28.5">value</text></g>
<g id="b7-20" class="o" transform="translate(1672 499.4)"><rect width="130" height="54" y="-27"/><text x="8.5" y="4">samples</text><text x="4.5" y="20.5">value</text></g>
<g id="b7-21" class="b" transform="translate(1690 499.4)"><rect width="130" height="54" y="-27"/><text x="8.5" y="4">samples</text><text x="4.5" y="20.5">value</text></g>
<g id="b7-22" class="o" transform="translate(1708 499.4)"><rect width="130" height="54" y="-27"/><text x="32" y="-12">gini</text><text x="8.5" y="4">samples</text><text x="4.5" y="20.5">value =</text></g>
<g id="b7-23" transform="translate(1761 499.4)"><rect width="130" height="70.5" y="-35.2" fill="#f5d2b8"/><text x="12" y="-20">f</text><text x="8.5" y="12.5">samples</text><text x="4.7" y="28.5">value</text></g>
<g id="b7-24" class="o" transform="translate(1779 499.4)"><rect width="130" height="54" y="-27"/><text x="8.5" y="4">samples</text><text x="4.5" y="20.5">value</text></g>
<g id="b7-25" class="c" transform="translate(1880 499.4)"><rect x="-83" width="166" height="70.5" y="-35.2" fill="#e89153"/><text y="-20">G2 &lt;= -0.292</text><text y="-4">gini = 0.219</text><text y="12.5">samples = 1.0%</text><text y="28.5">value = [0.875, 0.125]</text></g>

<g id="b6-1" transform="translate(1010 437)"><rect width="165" height="70.5" y="-35.2" fill="#6ab6ec"/><text x="35" y="-20">G2 &lt;=</text><text x="40" y="-4">gini =</text><text x="26" y="12.5">samples</text><text x="4.7" y="28.5">value = [0.1</text></g>
<g id="b6-2" transform="translate(1100 437)"><rect width="165" height="70.5" y="-35.2" fill="#f6d5bd"/><text x="8.5" y="12.5">samples</text><text x="4.7" y="28.5">value</text></g>
<g id="b6-3" transform="translate(1127 437)"><rect width="165" height="70.5" y="-35.2" fill="#48a5e7"/><text x="27" y="-20">f</text><text x="26" y="12.5">samples</text><text x="4.7" y="28.5">value</text></g>
<g id="b6-4" class="b" transform="translate(1162 437)"><rect width="130" height="54" y="-27"/><text x="8.5" y="4">samples</text><text x="4.5" y="20.5">value</text></g>
<g id="b6-5" transform="translate(1180 437)"><rect width="165" height="70.5" y="-35.2" fill="#3fa0e6"/><text x="28" y="-20">Fedu &lt;</text><text x="40" y="-4">gini =</text><text x="26" y="12.5">samples</text><text x="4.7" y="28.5">value = [0</text></g>
<g id="b6-6" transform="translate(1256 437)"><rect width="165" height="70.5" y="-35.2" fill="#4fa8e8"/><text x="25" y="-20">guardia</text><text x="40" y="-4">gini =</text><text x="22" y="12.5">samples</text><text x="4.7" y="28.5">value = [0</text></g>
<g id="b6-7" transform="translate(1332 437)"><rect width="165" height="70.5" y="-35.2" fill="#f1bd97"/><text x="26" y="12.5">samples</text><text x="4.7" y="28.5">value</text></g>
<g id="b6-8" transform="translate(1368 437)"><rect width="165" height="70.5" y="-35.2" fill="#5caeea"/><text x="20" y="-20">freetime</text><text x="40" y="-4">gini =</text><text x="26" y="12.5">samples</text><text x="4.7" y="28.5">value = [0.</text></g>
<g id="b6-9" transform="translate(1448 437)"><rect width="165" height="70.5" y="-35.2" fill="#f5cfb3"/><text x="31" y="-20">fo</text><text x="26" y="12.5">samples</text><text x="4.7" y="28.5">value</text></g>
<g id="b6-10" transform="translate(1484 437)"><rect width="165" height="70.5" y="-35.2" fill="#4aa6e7"/><text x="26" y="12.5">samples</text><text x="4.7" y="28.5">value</text></g>
<g id="b6-11" class="b" transform="translate(1520 437)"><rect width="130" height="54" y="-27"/><text x="8.5" y="4">samples</text><text x="4.5" y="20.5">value</text></g>
<g id="b6-12" class="o" transform="translate(1538 437)"><rect width="130" height="54" y="-27"/><text x="8.5" y="4">samples</text><text x="4.5" y="20.5">value</text></g>
<g id="b6-13" class="b" transform="translate(1556 437)"><rect width="130" height="54" y="-27"/><text x="8.5" y="4">samples</text><text x="4.5" y="20.5">value</text></g>
<g id="b6-14" class="o" transform="translate(1573 437)"><rect width="130" height="54" y="-27"/><text x="4.5" y="20.5">value</text></g>
<g id="b6-15" transform="translate(1581 437)"><rect width="146" height="70.5" y="-35.2" fill="#e78d4c"/><text x="4" y="-20">travel</text><text x="40" y="-4">gini</text><text x="21" y="12.5">samples</text><text x="15" y="28.5">value</text></g>
<g id="b6-16" transform="translate(1627 437)"><rect width="130" height="70.5" y="-35.2" fill="#fff"/><text x="8.5" y="12.5">samples</text><text x="4.7" y="28.5">value</text></g>
<g id="b6-17" transform="translate(1645 437)"><rect width="146" height="70.5" y="-35.2" fill="#eca571"/><text x="27" y="-20">f</text><text x="26" y="12.5">samples</text><text x="4.7" y="28.5">value</text></g>
<g id="b6-18" transform="translate(1681 437)"><rect width="165" height="70.5" y="-35.2" fill="#5baee9"/><text x="30" y="-20">f</text><text x="26" y="12.5">samples</text><text x="4.7" y="28.5">value</text></g>
<g id="b6-19" class="b" transform="translate(1716 437)"><rect width="130" height="54" y="-27"/><text x="8.5" y="4">samples</text><text x="4.5" y="20.5">value</text></g>
<g id="b6-20" class="o" transform="translate(1734 437)"><rect width="130" height="54" y="-27"/><text x="8.5" y="4">samples</text><text x="4.5" y="20.5">value</text></g>
<g id="b6-21" transform="translate(1752 437)"><rect width="146" height="70.5" y="-35.2" fill="#eca572"/><text x="41" y="-4">gini</text><text x="26" y="12.5">samples</text><text x="4.7" y="28.5">value</text></g>
<g id="b6-22" class="c" transform="translate(1871 437)"><rect x="-74" width="148" height="70.5" y="-35.2" fill="#e68743"/><text y="-20">guardian &lt;= 1.5</text><text y="-4">gini = 0.095</text><text y="12.5">samples = 2.3%</text><text y="28.5">value = [0.95, 0.05]</text></g>

<g id="b5-1" transform="translate(1046 374.7)"><rect width="130" height="70.5" y="-35.2" fill="#8bc6f0"/><text x="17" y="-20">freetime &lt;</text><text x="40" y="-4">gini = 0</text><text x="26" y="12.5">samples</text><text x="4.7" y="28.5">value = [0.2</text></g>
<g id="b5-2" transform="translate(1135 374.7)"><rect width="165" height="70.5" y="-35.2" fill="#3d9fe5"/><text x="25" y="-20">activities</text><text x="40" y="-4">gini =</text><text x="26" y="12.5">samples</text><text x="4.7" y="28.5">value = [0.</text></g>
<g id="b5-3" transform="translate(1218 374.7)"><rect width="165" height="70.5" y="-35.2" fill="#4ea7e8"/><text x="27" y="-20">fr</text><text x="22" y="12.5">samples</text><text x="4.7" y="28.5">value</text></g>
<g id="b5-4" class="o" transform="translate(1253 374.7)"><rect width="130" height="54" y="-27"/><text x="32" y="-12">gini =</text><text x="9" y="4">samples =</text><text x="4.5" y="20.5">value = [1</text></g>
<g id="b5-5" transform="translate(1332 374.7)"><rect width="165" height="70.5" y="-35.2" fill="#e78c4a"/><text x="23" y="-20">reason</text><text x="31" y="-4">gini =</text><text x="17" y="12.5">samples</text><text x="4.7" y="28.5">value = [0</text></g>
<g id="b5-6" transform="translate(1408 374.7)"><rect width="165" height="70.5" y="-35.2" fill="#bbdcf6"/><text x="30" y="-20">Medu &lt;</text><text x="40" y="-4">gini =</text><text x="26" y="12.5">samples</text><text x="4.7" y="28.5">value = [0.1</text></g>
<g id="b5-7" transform="translate(1493 374.7)"><rect width="165" height="70.5" y="-35.2" fill="#3d9fe5"/><text x="19" y="12.5">samples</text><text x="4.7" y="28.5">value</text></g>
<g id="b5-8" transform="translate(1529 374.7)"><rect width="165" height="70.5" y="-35.2" fill="#9ccef2"/><text x="33" y="-20">G</text><text x="40" y="-4">gini</text><text x="26" y="12.5">samples</text><text x="4.7" y="28.5">value</text></g>
<g id="b5-9" transform="translate(1573 374.7)"><rect width="165" height="70.5" y="-35.2" fill="#e68540"/><text x="26" y="-20">G1</text><text x="32" y="-4">gini</text><text x="18" y="12.5">samples</text><text x="4.7" y="28.5">value</text></g>
<g id="b5-10" transform="translate(1618 374.7)"><rect width="165" height="70.5" y="-35.2" fill="#72b9ec"/><text x="28" y="-20">a</text><text x="26" y="12.5">samples</text><text x="4.7" y="28.5">value</text></g>
<g id="b5-11" transform="translate(1654 374.7)"><rect width="165" height="70.5" y="-35.2" fill="#f6d5bd"/><text x="21" y="-20">fa</text><text x="26" y="12.5">samples</text><text x="4.7" y="28.5">value</text></g>
<g id="b5-12" transform="translate(1689 374.7)"><rect width="165" height="70.5" y="-35.2" fill="#4ea7e8"/><text x="9" y="-20">trav</text><text x="26" y="12.5">samples</text><text x="4.7" y="28.5">value</text></g>
<g id="b5-13" transform="translate(1726 374.7)"><rect width="165" height="70.5" y="-35.2" fill="#fbeade"/><text x="35" y="-20">G</text><text x="40" y="-4">gini</text><text x="26" y="12.5">samples</text><text x="4.7" y="28.5">value</text></g>
<g id="b5-14" transform="translate(1770 374.7)"><rect width="166" height="70.5" y="-35.2" fill="#e78d4c"/><text x="36" y="-20">f</text><text x="26" y="12.5">samples</text><text x="4.7" y="28.5">value</text></g>
<g id="b5-15" class="b" transform="translate(1810 374.7)"><rect width="130" height="54" y="-27"/><text x="8.5" y="4">samples</text><text x="4.5" y="20.5">value</text></g>
<g id="b5-16" class="o c" transform="translate(1893 374.7)"><rect x="-65" y="-27" width="130" height="54"/><text y="-12">gini = 0.0</text><text y="4">samples = 0.4%</text><text y="20.5">value = [1.0, 0.0]</text></g>

<g id="b4-1" transform="translate(1108 312.4)"><rect width="130" height="70.5" y="-35.2" fill="#6ab6ec"/><text x="15" y="-20">reason &lt;= 1.5</text><text x="27" y="-4">gini = 0.32</text><text x="4.5" y="12.5">samples = 11.8%</text><text x="4.7" y="28.5">value = [0.2, 0.8]</text></g>
<g id="b4-2" class="c" transform="translate(1309.5 312.4)"><rect x="-82.5" width="165" height="70.5" y="-35.2" fill="#4ea7e8"/><text y="-20">absences &lt;= 9.56</text><text y="-4">gini = 0.171</text><text y="12.5">samples = 42.2%</text><text y="28.5">value = [0.095, 0.905]</text></g>
<g id="b4-3" class="c" transform="translate(1449 312.4)"><rect x="-83" width="166" height="70.5" y="-35.2" fill="#f9e3d3"/><text y="-20">absences &lt;= -0.5</text><text y="-4">gini = 0.492</text><text y="12.5">samples = 9.3%</text><text y="28.5">value = [0.564, 0.436]</text></g>
<g id="b4-4" transform="translate(1511 312.4)"><rect width="165" height="70.5" y="-35.2" fill="#3d9fe5"/><text x="41" y="-20">Fjob &lt;</text><text x="40" y="-4">gini =</text><text x="22" y="12.5">samples</text><text x="4.7" y="28.5">value = [0.</text></g>
<g id="b4-5" transform="translate(1591 312.4)"><rect width="165" height="70.5" y="-35.2" fill="#eca775"/><text x="22" y="-20">schoolsup</text><text x="45" y="-4">gini =</text><text x="26" y="12.5">samples</text><text x="4.7" y="28.5">value = [0.7</text></g>
<g id="b4-6" transform="translate(1680 312.4)"><rect width="165" height="70.5" y="-35.2" fill="#7ebfee"/><text x="27" y="-20">G2 &lt;=</text><text x="32" y="-4">gini =</text><text x="18" y="12.5">samples</text><text x="4.7" y="28.5">value = [</text></g>
<g id="b4-7" class="b" transform="translate(1748 312.4)"><rect width="130" height="54" y="-27"/><text x="8.5" y="4">samples</text><text x="4.5" y="20.5">value</text></g>
<g id="b4-8" transform="translate(1766 312.4)"><rect width="165" height="70.5" y="-35.2" fill="#eba06a"/><text x="8.5" y="12.5">samples</text><text x="4.7" y="28.5">value</text></g>
<g id="b4-9" class="b" transform="translate(1783 312.4)"><rect width="130" height="54" y="-27"/><text x="8.5" y="4">samples</text><text x="4.5" y="20.5">value</text></g>
<g id="b4-10" transform="translate(1801 312.4)"><rect width="166" height="70.5" y="-35.2" fill="#f2c09c"/><text x="15" y="-20">abs</text><text x="26" y="12.5">samples</text><text x="4.7" y="28.5">value</text></g>
<g id="b4-11" class="b c" transform="translate(1902 312.4)"><rect x="-65" y="-27" width="130" height="54"/><text y="-12">gini = 0.0</text><text y="4">samples = 0.2%</text><text y="20.5">value = [0.0, 1.0]</text></g>

<g id="b3-1" class="c" transform="translate(1241.5 250)"><rect x="-82.5" width="165" height="70.5" y="-35.2" fill="#54aae9"/><text y="-20">famrel &lt;= -0.453</text><text y="-4">gini = 0.208</text><text y="12.5">samples = 54.1%</text><text y="28.5">value = [0.118, 0.882]</text></g>
<g id="b3-2" class="c" transform="translate(1520.5 250)"><rect x="-82.5" width="165" height="70.5" y="-35.2" fill="#6cb6ec"/><text y="-20">G1 &lt;= -0.23</text><text y="-4">gini = 0.347</text><text y="12.5">samples = 25.6%</text><text y="28.5">value = [0.224, 0.776]</text></g>
<g id="b3-3" transform="translate(1632 250)"><rect width="165" height="70.5" y="-35.2" fill="#ddeefb"/><text x="34" y="-20">G1 &lt;= -0.</text><text x="40" y="-4">gini = 0.4</text><text x="26" y="12.5">samples = 9</text><text x="4.7" y="28.5">value = [0.453</text></g>
<g id="b3-4" transform="translate(1739 250)"><rect width="165" height="70.5" y="-35.2" fill="#eca571"/><text x="15" y="-20">fre</text><text x="26" y="12.5">samples</text><text x="4.7" y="28.5">value</text></g>
<g id="b3-5" transform="translate(1775 250)"><rect width="165" height="70.5" y="-35.2" fill="#3e9fe6"/><text x="21" y="-20">failu</text><text x="49" y="-4">gini</text><text x="26" y="12.5">samples</text><text x="4.7" y="28.5">value =</text></g>
<g id="b3-6" class="c" transform="translate(1893 250)"><rect x="-65" width="130" height="70.5" y="-35.2" fill="#bddef6"/><text y="-20">Fjob &lt;= 3.5</text><text y="-4">gini = 0.48</text><text y="12.5">samples = 0.8%</text><text y="28.5">value = [0.4, 0.6]</text></g>

<g id="b2-1" class="c" transform="translate(1381.5 187.8)"><rect x="-82.5" width="165" height="70.5" y="-35.2" fill="#5daeea"/><text y="-20">goout &lt;= 0.284</text><text y="-4">gini = 0.26</text><text y="12.5">samples = 79.7%</text><text y="28.5">value = [0.153, 0.847]</text></g>
<g id="b2-2" transform="translate(1686 187.8)"><rect width="165" height="70.5" y="-35.2" fill="#f8e2d3"/><text x="33" y="-20">school &lt;=</text><text x="40" y="-4">gini = 0.4</text><text x="22" y="12.5">samples = 1</text><text x="4.7" y="28.5">value = [0.555</text></g>
<g id="b2-3" class="c" transform="translate(1875 187.8)"><rect x="-83" width="166" height="70.5" y="-35.2" fill="#55abe9"/><text y="-20">school &lt;= 0.5</text><text y="-4">gini = 0.219</text><text y="12.5">samples = 2.9%</text><text y="28.5">value = [0.125, 0.875]</text></g>

<g id="b1-1" class="c" transform="translate(1574.5 125.7)"><rect x="-82.5" width="165" height="70.5" y="-35.2" fill="#6fb8ec"/><text y="-20">failures &lt;= 0.352</text><text y="-4">gini = 0.344</text><text y="12.5">samples = 95.0%</text><text y="28.5">value = [0.221, 0.779]</text></g>
<g id="b1-2" class="c" transform="translate(1866.5 125.7)"><rect x="-83" width="166" height="70.5" y="-35.2" fill="#fefaf7"/><text y="-20">G2 &lt;= -0.521</text><text y="-4">gini = 0.5</text><text y="12.5">samples = 5.0%</text><text y="28.5">value = [0.512, 0.488]</text></g>
<text class="c" x="1624" y="95">True</text>
<text class="c" x="1819" y="95">False</text>
<g id="b0-1" class="c" transform="translate(1720.5 63.3)"><rect x="-82.5" width="165" height="70.5" y="-35.2" fill="#73b9ec"/><text y="-20">Dalc &lt;= 2.173</text><text y="-4">gini = 0.361</text><text y="12.5">samples = 100.0%</text><text y="28.5">value = [0.236, 0.764]</text></g>
</g>

<g id="tree3">
<g id="c11-1" class="k c" transform="translate(2124 749)"><rect x="-25" y="-27" width="50" height="54"/><text y="4">(...)</text></g>
<g id="c11-2" class="k c" transform="translate(2145 749)"><rect x="-25" y="-27" width="50" height="54"/><text y="4">(...)</text></g>
<g id="c11-3" class="k c" transform="translate(2227 749)"><rect x="-25" y="-27" width="50" height="54"/><text y="4">(...)</text></g>
<g id="c11-4" class="k c" transform="translate(2247 749)"><rect x="-25" y="-27" width="50" height="54"/><text y="4">(...)</text></g>
<g id="c11-5" class="k c" transform="translate(2268 749)"><rect x="-25" y="-27" width="50" height="54"/><text y="4">(...)</text></g>
<g id="c11-6" class="k c" transform="translate(2288 749)"><rect x="-25" y="-27" width="50" height="54"/><text y="4">(...)</text></g>
<g id="c11-7" class="k c" transform="translate(2457 749)"><rect x="-25" y="-27" width="50" height="54"/><text y="4">(...)</text></g>
<g id="c11-8" class="k c" transform="translate(2478 749)"><rect x="-25" y="-27" width="50" height="54"/><text y="4">(...)</text></g>
<g id="c11-9" class="k c" transform="translate(2498 749)"><rect x="-25" y="-27" width="50" height="54"/><text y="4">(...)</text></g>
<g id="c11-10" class="k c" transform="translate(2519 749)"><rect x="-25" y="-27" width="50" height="54"/><text y="4">(...)</text></g>
<g id="c11-11" class="k c" transform="translate(2539 749)"><rect x="-25" y="-27" width="50" height="54"/><text y="4">(...)</text></g>
<g id="c11-12" class="k c" transform="translate(2559 749)"><rect x="-25" y="-27" width="50" height="54"/><text y="4">(...)</text></g>
<g id="c11-13" class="k c" transform="translate(2580 749)"><rect x="-25" y="-27" width="50" height="54"/><text y="4">(...)</text></g>
<g id="c11-14" class="k c" transform="translate(2600 749)"><rect x="-25" y="-27" width="50" height="54"/><text y="4">(...)</text></g>
<g id="c11-15" class="k c" transform="translate(2641 749)"><rect x="-25" y="-27" width="50" height="54"/><text y="4">(...)</text></g>
<g id="c11-16" class="k c" transform="translate(2662 749)"><rect x="-25" y="-27" width="50" height="54"/><text y="4">(...)</text></g>
<g id="c11-17" class="k c" transform="translate(2682 749)"><rect x="-25" y="-27" width="50" height="54"/><text y="4">(...)</text></g>
<g id="c11-18" class="k c" transform="translate(2702.5 749)"><rect x="-25" y="-27" width="50" height="54"/><text y="4">(...)</text></g>

<g id="c10-1" transform="translate(2052 686.4)"><rect width="165" height="70.5" y="-35.2" fill="#b0d8f5"/><text x="26" y="-20">M</text><text x="26" y="12.5">samples</text><text x="4.7" y="28.5">value</text></g>
<g id="c10-2" class="o" transform="translate(2090 686.4)"><rect width="130" height="54" y="-27"/><text x="32" y="-12">gini</text><text x="8.5" y="4">samples</text><text x="4.5" y="20.5">value</text></g>
<g id="c10-3" class="b" transform="translate(2131 686.4)"><rect width="130" height="54" y="-27"/><text x="8.5" y="4">samples</text><text x="4.5" y="20.5">value</text></g>
<g id="c10-4" class="o" transform="translate(2152 686.4)"><rect width="130" height="54" y="-27"/></g>
<g id="c10-5" transform="translate(2154 686.4)"><rect width="165" height="70.5" y="-35.2" fill="#e99b62"/><text x="27" y="-20">gi</text><text x="26" y="12.5">samples</text><text x="4.7" y="28.5">value</text></g>
<g id="c10-6" class="b" transform="translate(2193 686.4)"><rect width="130" height="54" y="-27"/></g>
<g id="c10-7" transform="translate(2195 686.4)"><rect width="166" height="70.5" y="-35.2" fill="#e68844"/><text x="26" y="12.5">samples</text><text x="4.7" y="28.5">value</text></g>
<g id="c10-8" class="b c" transform="translate(2298 686.4)"><rect x="-65" y="-27" width="130" height="54"/><text y="-12">gini = 0.0</text><text y="4">samples = 0.2%</text><text y="20.5">value = [0.0, 1.0]</text></g>
<g id="c10-9" transform="translate(2384 686.4)"><rect width="165" height="70.5" y="-35.2" fill="#3fa0e6"/><text x="34" y="-20">fa</text><text x="26" y="12.5">samples</text><text x="4.7" y="28.5">value</text></g>
<g id="c10-10" transform="translate(2425 686.4)"><rect width="165" height="70.5" y="-35.2" fill="#3c9ee5"/><text x="34" y="-20">M</text><text x="26" y="12.5">samples</text><text x="4.7" y="28.5">value</text></g>
<g id="c10-11" transform="translate(2466 686.4)"><rect width="165" height="70.5" y="-35.2" fill="#3c9ee5"/><text x="26" y="12.5">samples</text><text x="4.7" y="28.5">value</text></g>
<g id="c10-12" transform="translate(2507 686.4)"><rect width="165" height="70.5" y="-35.2" fill="#43a2e6"/><text x="33" y="-20">s</text><text x="26" y="12.5">samples</text><text x="4.7" y="28.5">value</text></g>
<g id="c10-13" class="b" transform="translate(2545 686.4)"><rect width="130" height="54" y="-27"/><text x="8.5" y="4">samples</text><text x="4.5" y="20.5">value</text></g>
<g id="c10-14" class="o" transform="translate(2566 686.4)"><rect width="130" height="54" y="-27"/></g>
<g id="c10-15" transform="translate(2568 686.4)"><rect width="165" height="70.5" y="-35.2" fill="#f3c2a0"/><text x="27" y="-20">go</text><text x="26" y="12.5">samples</text><text x="4.7" y="28.5">value</text></g>
<g id="c10-16" transform="translate(2609 686.4)"><rect width="166" height="70.5" y="-35.2" fill="#e99b62"/><text x="9" y="-20">trav</text><text x="26" y="12.5">samples</text><text x="4.7" y="28.5">value</text></g>
<g id="c10-17" class="b c" transform="translate(2712 686.4)"><rect x="-65" y="-27" width="130" height="54"/><text y="-12">gini = 0.0</text><text y="4">samples = 0.2%</text><text y="20.5">value = [0.0, 1.0]</text></g>

<g id="c9-1" class="b" transform="translate(2039 624)"><rect width="130" height="54" y="-27"/><text x="8.5" y="4">samples</text><text x="4.5" y="20.5">value</text></g>
<g id="c9-2" class="o" transform="translate(2059 624)"><rect width="130" height="54" y="-27"/></g>
<g id="c9-3" transform="translate(2062 624)"><rect width="165" height="70.5" y="-35.2" fill="#f0b48a"/><text x="25" y="-20">go</text><text x="26" y="12.5">samples</text><text x="4.7" y="28.5">value</text></g>
<g id="c9-4" class="b" transform="translate(2100 624)"><rect width="130" height="54" y="-27"/><text x="8.5" y="4">samples</text><text x="4.5" y="20.5">value</text></g>
<g id="c9-5" class="o" transform="translate(2121 624)"><rect width="130" height="54" y="-27"/></g>
<g id="c9-6" transform="translate(2123 624)"><rect width="165" height="70.5" y="-35.2" fill="#4ea7e8"/><text x="26" y="12.5">samples</text><text x="4.7" y="28.5">value</text></g>
<g id="c9-7" class="o" transform="translate(2161 624)"><rect width="130" height="54" y="-27"/><text x="8.5" y="4">samples</text><text x="4.5" y="20.5">value</text></g>
<g id="c9-8" transform="translate(2172 624)"><rect width="165" height="70.5" y="-35.2" fill="#eda877"/><text x="4" y="-20">stud</text><text x="17" y="12.5">samples</text><text x="4.7" y="28.5">value</text></g>
<g id="c9-9" transform="translate(2205 624)"><rect width="166" height="70.5" y="-35.2" fill="#e99b62"/><text x="29" y="-20">M</text><text x="26" y="12.5">samples</text><text x="4.7" y="28.5">value</text></g>
<g id="c9-10" class="b" transform="translate(2243 624)"><rect width="130" height="54" y="-27"/><text x="8.5" y="4">samples</text><text x="4.5" y="20.5">value</text></g>
<g id="c9-11" class="o" transform="translate(2264 624)"><rect width="130" height="54" y="-27"/><text x="8.5" y="4">samples</text><text x="4.5" y="20.5">value</text></g>
<g id="c9-12" class="b" transform="translate(2284 624)"><rect width="130" height="54" y="-27"/><text x="32" y="-12">gini = 0.0</text><text x="9" y="4">samples = 0.4</text><text x="4.5" y="20.5">value = [0.0, 1.</text></g>
<g id="c9-13" transform="translate(2394 624)"><rect width="165" height="70.5" y="-35.2" fill="#41a1e6"/><text x="22" y="-20">schoo</text><text x="40" y="-4">gini</text><text x="26" y="12.5">samples</text><text x="4.7" y="28.5">value =</text></g>
<g id="c9-14" transform="translate(2445 624)"><rect width="165" height="70.5" y="-35.2" fill="#41a1e6"/><text x="28" y="-20">goo</text><text x="40" y="-4">gini</text><text x="26" y="12.5">samples</text><text x="4.7" y="28.5">value</text></g>
<g id="c9-15" class="b" transform="translate(2493 624)"><rect width="130" height="54" y="-27"/><text x="8.5" y="4">samples</text><text x="4.5" y="20.5">value</text></g>
<g id="c9-16" class="o" transform="translate(2514 624)"><rect width="130" height="54" y="-27"/></g>
<g id="c9-17" transform="translate(2517 624)"><rect width="165" height="70.5" y="-35.2" fill="#41a1e6"/><text x="40" y="-20">Fjo</text><text x="40" y="-4">gini</text><text x="26" y="12.5">samples</text><text x="4.7" y="28.5">value =</text></g>
<g id="c9-18" transform="translate(2576 624)"><rect width="165" height="70.5" y="-35.2" fill="#5daeea"/><text x="7" y="-20">guar</text><text x="27" y="-4">gini</text><text x="8" y="12.5">samples</text><text x="4.7" y="28.5">value</text></g>
<g id="c9-19" class="b" transform="translate(2618 624)"><rect width="130" height="54" y="-27"/><text x="8.5" y="4">samples</text><text x="4.5" y="20.5">value</text></g>
<g id="c9-20" transform="translate(2628 624)"><rect width="148" height="70.5" y="-35.2" fill="#eda877"/><text x="16" y="-20">ac</text><text x="18" y="12.5">samples</text><text x="4.7" y="28.5">value</text></g>
<g id="c9-21" class="b" transform="translate(2657 624)"><rect width="130" height="54" y="-27"/><text x="8.5" y="4">samples</text><text x="4.5" y="20.5">value</text></g>
<g id="c9-22" class="o c" transform="translate(2743 624)"><rect x="-65" y="-27" width="130" height="54"/><text y="-12">gini = 0.0</text><text y="4">samples = 0.2%</text><text y="20.5">value = [1.0, 0.0]</text></g>

<g id="c8-1" transform="translate(2049 561.8)"><rect width="165" height="70.5" y="-35.2" fill="#5baee9"/><text x="8.5" y="12.5">samples</text><text x="4.7" y="28.5">value</text></g>
<g id="c8-2" class="b" transform="translate(2070 561.8)"><rect width="130" height="54" y="-27"/></g>
<g id="c8-3" transform="translate(2072 561.8)"><rect width="165" height="70.5" y="-35.2" fill="#f4c9ab"/><text x="11" y="-20">travelt</text><text x="40" y="-4">gini</text><text x="26" y="12.5">samples</text><text x="4.7" y="28.5">value =</text></g>
<g id="c8-4" transform="translate(2131 561.8)"><rect width="165" height="70.5" y="-35.2" fill="#5baee9"/><text x="9" y="-20">M</text><text x="15" y="12.5">samples</text><text x="4.7" y="28.5">value</text></g>
<g id="c8-5" transform="translate(2154 561.8)"><rect width="165" height="70.5" y="-35.2" fill="#e9975b"/><text x="32" y="-20">r</text><text x="26" y="12.5">samples</text><text x="4.7" y="28.5">value</text></g>
<g id="c8-6" class="b" transform="translate(2192 561.8)"><rect width="130" height="54" y="-27"/><text x="8.5" y="4">samples</text><text x="4.5" y="20.5">value</text></g>
<g id="c8-7" transform="translate(2216 561.8)"><rect width="165" height="70.5" y="-35.2" fill="#f5d2b8"/><text x="23" y="-20">sc</text><text x="26" y="12.5">samples</text><text x="4.7" y="28.5">value</text></g>
<g id="c8-8" transform="translate(2256 561.8)"><rect width="163" height="70.5" y="-35.2" fill="#9ccef2"/><text x="12" y="-20">abs</text><text x="26" y="12.5">samples</text><text x="4.7" y="28.5">value</text></g>
<g id="c8-9" class="b" transform="translate(2295 561.8)"><rect width="130" height="54" y="-27"/><text x="32" y="-12">gini</text><text x="8.5" y="4">samples</text><text x="4.5" y="20.5">value</text></g>
<g id="c8-10" class="o" transform="translate(2336 561.8)"><rect width="130" height="54" y="-27"/><text x="8.5" y="4">samples</text><text x="4.5" y="20.5">value</text></g>
<g id="c8-11" class="b" transform="translate(2356 561.8)"><rect width="130" height="54" y="-27"/><text x="32" y="-12">gini</text><text x="8.5" y="4">samples</text><text x="4.5" y="20.5">value =</text></g>
<g id="c8-12" class="b" transform="translate(2417 561.8)"><rect width="130" height="54" y="-27"/></g>
<g id="c8-13" transform="translate(2420 561.8)"><rect width="165" height="70.5" y="-35.2" fill="#3d9fe5"/><text x="39" y="-20">Mjob</text><text x="40" y="-4">gini =</text><text x="22" y="12.5">samples</text><text x="4.7" y="28.5">value = [0.</text></g>
<g id="c8-14" transform="translate(2504 561.8)"><rect width="165" height="70.5" y="-35.2" fill="#fff"/><text x="13" y="-20">Wa</text><text x="9" y="12.5">samples</text><text x="4" y="28.5">value</text></g>
<g id="c8-15" transform="translate(2538 561.8)"><rect width="165" height="70.5" y="-35.2" fill="#41a1e6"/><text x="15" y="-20">absence</text><text x="40" y="-4">gini</text><text x="21" y="12.5">samples</text><text x="4.7" y="28.5">value = [</text></g>
<g id="c8-16" transform="translate(2610 561.8)"><rect width="165" height="70.5" y="-35.2" fill="#fbeade"/><text x="29" y="-20">in</text><text x="26" y="12.5">samples</text><text x="4.7" y="28.5">value</text></g>
<g id="c8-17" class="b" transform="translate(2647 561.8)"><rect width="130" height="54" y="-27"/><text x="8.5" y="4">samples</text><text x="4.5" y="20.5">value</text></g>
<g id="c8-18" class="c" transform="translate(2733 561.8)"><rect x="-72" width="144" height="70.5" y="-35.2" fill="#fff"/><text y="-20">absences &lt;= 0.714</text><text y="-4">gini = 0.5</text><text y="12.5">samples = 0.4%</text><text y="28.5">value = [0.5, 0.5]</text></g>

<g id="c7-1" class="b" transform="translate(1998 499.4)"><rect width="130" height="54" y="-27"/><text x="8.5" y="4">samples</text><text x="4.5" y="20.5">value</text></g>
<g id="c7-2" class="o" transform="translate(2018 499.4)"><rect width="130" height="54" y="-27"/><text x="8.5" y="4">samples</text><text x="4.5" y="20.5">value</text></g>
<g id="c7-3" class="o" transform="translate(2039 499.4)"><rect width="130" height="54" y="-27"/></g>
<g id="c7-4" transform="translate(2041 499.4)"><rect width="165" height="70.5" y="-35.2" fill="#50a8e8"/><text x="19" y="-20">free</text><text x="40" y="-4">gini</text><text x="26" y="12.5">samples</text><text x="4.7" y="28.5">value =</text></g>
<g id="c7-5" transform="translate(2093 499.4)"><rect width="165" height="70.5" y="-35.2" fill="#f2f8fd"/><text x="27" y="-20">goout</text><text x="40" y="-4">gini</text><text x="26" y="12.5">samples</text><text x="4.7" y="28.5">value = [</text></g>
<g id="c7-6" transform="translate(2164 499.4)"><rect width="165" height="70.5" y="-35.2" fill="#eb9c64"/><text x="26" y="12.5">samples</text><text x="4.7" y="28.5">value</text></g>
<g id="c7-7" class="b" transform="translate(2203 499.4)"><rect width="130" height="54" y="-27"/><text x="8.5" y="4">samples</text><text x="4.5" y="20.5">value</text></g>
<g id="c7-8" class="o" transform="translate(2223 499.4)"><rect width="130" height="54" y="-27"/><text x="8.5" y="4">samples</text><text x="4.5" y="20.5">value</text></g>
<g id="c7-9" transform="translate(2243 499.4)"><rect width="130" height="70.5" y="-35.2" fill="#fff"/><text x="14" y="-20">W</text><text x="8.5" y="12.5">samples</text><text x="4.7" y="28.5">value</text></g>
<g id="c7-10" class="b" transform="translate(2263 499.4)"><rect width="130" height="54" y="-27"/><text x="8.5" y="4">samples</text><text x="4.5" y="20.5">value</text></g>
<g id="c7-11" transform="translate(2284 499.4)"><rect width="165" height="70.5" y="-35.2" fill="#48a5e7"/><text x="14" y="-20">f</text><text x="8.5" y="12.5">samples</text><text x="4.7" y="28.5">value</text></g>
<g id="c7-12" class="b" transform="translate(2305 499.4)"><rect width="130" height="54" y="-27"/><text x="8.5" y="4">samples</text><text x="4.5" y="20.5">value</text></g>
<g id="c7-13" transform="translate(2328 499.4)"><rect width="165" height="70.5" y="-35.2" fill="#f1bd97"/><text x="36" y="-20">W</text><text x="26" y="12.5">samples</text><text x="4.7" y="28.5">value</text></g>
<g id="c7-14" class="b" transform="translate(2366 499.4)"><rect width="130" height="54" y="-27"/><text x="8.5" y="4">samples</text><text x="4.5" y="20.5">value</text></g>
<g id="c7-15" class="b" transform="translate(2387 499.4)"><rect width="130" height="54" y="-27"/><text x="8.5" y="4">samples</text><text x="4.5" y="20.5">value</text></g>
<g id="c7-16" class="o" transform="translate(2407 499.4)"><rect width="130" height="54" y="-27"/></g>
<g id="c7-17" transform="translate(2410 499.4)"><rect width="165" height="70.5" y="-35.2" fill="#3fa0e6"/><text x="31" y="-20">Pstatus &lt;=</text><text x="40" y="-4">gini = 0.</text><text x="22" y="12.5">samples =</text><text x="4.7" y="28.5">value = [0.0</text></g>
<g id="c7-18" transform="translate(2512 499.4)"><rect width="165" height="70.5" y="-35.2" fill="#48a5e7"/><text x="41" y="-20">Fjob &lt;</text><text x="40" y="-4">gini =</text><text x="22" y="12.5">samples</text><text x="4.7" y="28.5">value = [0.1</text></g>
<g id="c7-19" transform="translate(2599 499.4)"><rect width="165" height="70.5" y="-35.2" fill="#8bc6f0"/><text x="29" y="-20">W</text><text x="26" y="12.5">samples</text><text x="4.7" y="28.5">value</text></g>
<g id="c7-20" transform="translate(2640 499.4)"><rect width="165" height="70.5" y="-35.2" fill="#9ccef2"/><text x="25" y="-20">go</text><text x="26" y="12.5">samples</text><text x="4.7" y="28.5">value</text></g>
<g id="c7-21" class="b c" transform="translate(2743 499.4)"><rect x="-65" y="-27" width="130" height="54"/><text y="-12">gini = 0.0</text><text y="4">samples = 0.6%</text><text y="20.5">value = [0.0, 1.0]</text></g>

<g id="c6-1" transform="translate(1990 437)"><rect width="165" height="70.5" y="-35.2" fill="#eba06a"/><text x="10" y="-20">study</text><text x="36" y="-4">gini</text><text x="26" y="12.5">samples</text><text x="4.7" y="28.5">value =</text></g>
<g id="c6-2" transform="translate(2040 437)"><rect width="165" height="70.5" y="-35.2" fill="#f0f7fd"/><text x="26" y="-20">G2</text><text x="31" y="-4">gini</text><text x="17" y="12.5">samples</text><text x="4.7" y="28.5">value</text></g>
<g id="c6-3" class="o" transform="translate(2080 437)"><rect width="130" height="54" y="-27"/><text x="8.5" y="4">samples</text><text x="4.5" y="20.5">value</text></g>
<g id="c6-4" class="b" transform="translate(2100 437)"><rect width="130" height="54" y="-27"/><text x="8.5" y="4">samples</text><text x="4.5" y="20.5">value</text></g>
<g id="c6-5" transform="translate(2128 437)"><rect width="165" height="70.5" y="-35.2" fill="#f4c9ab"/><text x="25" y="-20">romantic</text><text x="41" y="-4">gini</text><text x="27" y="12.5">samples</text><text x="4.7" y="28.5">value = [</text></g>
<g id="c6-6" transform="translate(2195 437)"><rect width="165" height="70.5" y="-35.2" fill="#e99b62"/><text x="26" y="-20">fo</text><text x="26" y="12.5">samples</text><text x="4.7" y="28.5">value</text></g>
<g id="c6-7" transform="translate(2236 437)"><rect width="165" height="70.5" y="-35.2" fill="#ddeefb"/><text x="26" y="12.5">samples</text><text x="4.7" y="28.5">value</text></g>
<g id="c6-8" transform="translate(2277 437)"><rect width="165" height="70.5" y="-35.2" fill="#41a1e6"/><text x="20" y="-20">fam</text><text x="26" y="12.5">samples</text><text x="4.7" y="28.5">value</text></g>
<g id="c6-9" class="o" transform="translate(2315 437)"><rect width="130" height="54" y="-27"/><text x="8.5" y="4">samples</text><text x="4.5" y="20.5">value</text></g>
<g id="c6-10" class="b" transform="translate(2336 437)"><rect width="130" height="54" y="-27"/><text x="8.5" y="4">samples</text><text x="4.5" y="20.5">value</text></g>
<g id="c6-11" transform="translate(2356 437)"><rect width="146" height="70.5" y="-35.2" fill="#bcdef6"/><text x="17" y="-20">G</text><text x="8.5" y="12.5">samples</text><text x="4.7" y="28.5">value</text></g>
<g id="c6-12" transform="translate(2379 437)"><rect width="165" height="70.5" y="-35.2" fill="#44a2e6"/><text x="14" y="-20">absences</text><text x="40" y="-4">gini =</text><text x="26" y="12.5">samples</text><text x="4.7" y="28.5">value = [0.</text></g>
<g id="c6-13" class="c" transform="translate(2543.5 437)"><rect x="-82.5" width="165" height="70.5" y="-35.2" fill="#44a2e6"/><text y="-20">reason &lt;= 0.5</text><text y="-4">gini = 0.102</text><text y="12.5">samples = 34.7%</text><text x="-78" y="28.5" style="text-anchor:start">value = [0.054, 0.</text></g>
<g id="c6-14" transform="translate(2589 437)"><rect width="165" height="70.5" y="-35.2" fill="#5daeea"/><text x="30" y="-20">fam</text><text x="40" y="-4">gini</text><text x="26" y="12.5">samples</text><text x="4.7" y="28.5">value =</text></g>
<g id="c6-15" class="b" transform="translate(2647 437)"><rect width="130" height="54" y="-27"/></g>
<g id="c6-16" transform="translate(2650 437)"><rect width="165" height="70.5" y="-35.2" fill="#59ace9"/><text x="25" y="-20">fa</text><text x="26" y="12.5">samples</text><text x="4.7" y="28.5">value</text></g>
<g id="c6-17" class="o" transform="translate(2688 437)"><rect width="130" height="54" y="-27"/><text x="8.5" y="4">samples</text><text x="4.5" y="20.5">value</text></g>
<g id="c6-18" class="b c" transform="translate(2773 437)"><rect x="-65" y="-27" width="130" height="54"/><text y="-12">gini = 0.0</text><text y="4">samples = 1.8%</text><text y="20.5">value = [0.0, 1.0]</text></g>

<g id="c5-1" transform="translate(2011 374.7)"><rect width="165" height="70.5" y="-35.2" fill="#f6d7c0"/><text x="20" y="-20">fre</text><text x="26" y="12.5">samples</text><text x="4.7" y="28.5">value</text></g>
<g id="c5-2" class="o" transform="translate(2049 374.7)"><rect width="130" height="54" y="-27"/><text x="8.5" y="4">samples</text><text x="4.5" y="20.5">value</text></g>
<g id="c5-3" class="b" transform="translate(2069 374.7)"><rect width="130" height="54" y="-27" style="fill:#e58139"/></g>
<g id="c5-4" transform="translate(2072 374.7)"><rect width="165" height="70.5" y="-35.2" fill="#4ba6e7"/><text x="35" y="-20">G</text><text x="40" y="-4">gini</text><text x="26" y="12.5">samples</text><text x="4.7" y="28.5">value</text></g>
<g id="c5-5" transform="translate(2118 374.7)"><rect width="165" height="70.5" y="-35.2" fill="#f2c3a1"/><text x="31" y="-20">Pstatus</text><text x="40" y="-4">gini =</text><text x="26" y="12.5">samples</text><text x="4.7" y="28.5">value = [0.6</text></g>
<g id="c5-6" transform="translate(2205 374.7)"><rect width="165" height="70.5" y="-35.2" fill="#e78d4c"/><text x="12" y="-20">abse</text><text x="40" y="-4">gini</text><text x="26" y="12.5">samples</text><text x="4.7" y="28.5">value</text></g>
<g id="c5-7" class="o" transform="translate(2253 374.7)"><rect width="130" height="54" y="-27"/></g>
<g id="c5-8" transform="translate(2256 374.7)"><rect width="165" height="70.5" y="-35.2" fill="#84c2ef"/><text x="35" y="-20">G2 &lt;</text><text x="40" y="-4">gini</text><text x="26" y="12.5">samples</text><text x="4.7" y="28.5">value = [</text></g>
<g id="c5-9" transform="translate(2325 374.7)"><rect width="165" height="70.5" y="-35.2" fill="#f5d2b8"/><text x="18" y="-20">G1</text><text x="31" y="-4">gini</text><text x="17" y="12.5">samples</text><text x="4.7" y="28.5">value</text></g>
<g id="c5-10" class="c" transform="translate(2441 374.7)"><rect x="-83" width="166" height="70.5" y="-35.2" fill="#61b1ea"/><text y="-20">guardian &lt;= 0.5</text><text y="-4">gini = 0.278</text><text y="12.5">samples = 2.8%</text><text y="28.5">value = [0.167, 0.833]</text></g>
<g id="c5-11" transform="translate(2525 374.7)"><rect width="165" height="70.5" y="-35.2" fill="#48a5e7"/><text x="30" y="-20">fam</text><text x="26" y="12.5">samples</text><text x="4.7" y="28.5">value</text></g>
<g id="c5-12" class="o" transform="translate(2563 374.7)"><rect width="130" height="54" y="-27"/><text x="32" y="-12">gini =</text><text x="9" y="4">samples =</text><text x="4.5" y="20.5">value = [1</text></g>
<g id="c5-13" transform="translate(2640 374.7)"><rect width="165" height="70.5" y="-35.2" fill="#4ea7e8"/><text x="30" y="-20">D</text><text x="26" y="12.5">samples</text><text x="4.7" y="28.5">value</text></g>
<g id="c5-14" transform="translate(2681 374.7)"><rect width="165" height="70.5" y="-35.2" fill="#4ea7e8"/><text x="26" y="12.5">samples</text><text x="4.7" y="28.5">value</text></g>
<g id="c5-15" class="b" transform="translate(2719 374.7)"><rect width="130" height="54" y="-27"/><text x="8.5" y="4">samples</text><text x="4.5" y="20.5">value</text></g>
<g id="c5-16" class="o" transform="translate(2740 374.7)"><rect width="130" height="54" y="-27"/><text x="8.5" y="4">samples</text><text x="4.5" y="20.5">value</text></g>
<g id="c5-17" class="o" transform="translate(2760 374.7)"><rect width="130" height="54" y="-27"/><text x="8.5" y="4">samples</text><text x="4.5" y="20.5">value</text></g>
<g id="c5-18" class="b" transform="translate(2781 374.7)"><rect width="130" height="54" y="-27"/><text x="8.5" y="4">samples</text><text x="4.5" y="20.5">value</text></g>
<g id="c5-19" class="o" transform="translate(2801 374.7)"><rect width="130" height="54" y="-27"/><text x="8.5" y="4">samples</text><text x="4.5" y="20.5">value</text></g>
<g id="c5-20" class="b c" transform="translate(2886 374.7)"><rect x="-65" y="-27" width="130" height="54"/><text y="-12">gini = 0.0</text><text y="4">samples = 0.2%</text><text y="20.5">value = [0.0, 1.0]</text></g>

<g id="c4-1" transform="translate(2021 312.4)"><rect width="165" height="70.5" y="-35.2" fill="#f4c9ab"/><text x="14" y="-20">abs</text><text x="26" y="12.5">samples</text><text x="4.7" y="28.5">value</text></g>
<g id="c4-2" transform="translate(2062 312.4)"><rect width="165" height="70.5" y="-35.2" fill="#60b0ea"/><text x="24" y="-20">health &lt;= -0.</text><text x="40" y="-4">gini = 0.2</text><text x="26" y="12.5">samples = 1</text><text x="4.7" y="28.5">value = [0.167</text></g>
<g id="c4-3" transform="translate(2171 312.4)"><rect width="165" height="70.5" y="-35.2" fill="#eca976"/><text x="32" y="-20">paid &lt;</text><text x="32" y="-4">gini =</text><text x="13" y="12.5">samples</text><text x="5" y="28.5">value = [0</text></g>
<g id="c4-4" transform="translate(2246 312.4)"><rect width="165" height="70.5" y="-35.2" fill="#f5cdb0"/><text x="35" y="-20">G2 &lt;=</text><text x="45" y="-4">gini =</text><text x="26" y="12.5">samples</text><text x="4.7" y="28.5">value = [0.6</text></g>
<g id="c4-5" class="c" transform="translate(2415.5 312.4)"><rect x="-82.5" width="165" height="70.5" y="-35.2" fill="#7fc0ee"/><text y="-20">higher &lt;= 0.5</text><text y="-4">gini = 0.386</text><text y="12.5">samples = 3.2%</text><text y="28.5">value = [0.261, 0.739]</text></g>
<g id="c4-6" transform="translate(2535 312.4)"><rect width="165" height="70.5" y="-35.2" fill="#47a4e7"/><text x="34" y="-20">age &lt;= 3.039</text><text x="40" y="-4">gini = 0.131</text><text x="22" y="12.5">samples = 39.1%</text><text x="4.7" y="28.5">value = [0.071, 0.929]</text></g>
<g id="c4-7" transform="translate(2669 312.4)"><rect width="165" height="70.5" y="-35.2" fill="#3c9ee5"/><text x="18" y="-20">goou</text><text x="36" y="-4">gini</text><text x="13" y="12.5">samples</text><text x="4.7" y="28.5">value =</text></g>
<g id="c4-8" transform="translate(2721 312.4)"><rect width="165" height="70.5" y="-35.2" fill="#41a1e6"/><text x="18" y="-20">g</text><text x="18" y="12.5">samples</text><text x="4.7" y="28.5">value</text></g>
<g id="c4-9" class="b" transform="translate(2749 312.4)"><rect width="130" height="54" y="-27"/><text x="8.5" y="4">samples</text><text x="4.5" y="20.5">value</text></g>
<g id="c4-10" transform="translate(2770 312.4)"><rect width="165" height="70.5" y="-35.2" fill="#eba06a"/><text x="26" y="-20">G1</text><text x="31" y="-4">gini</text><text x="9" y="12.5">samples</text><text x="4.7" y="28.5">value</text></g>
<g id="c4-11" transform="translate(2811 312.4)"><rect width="130" height="70.5" y="-35.2" fill="#fff"/><text x="9" y="12.5">samples</text><text x="4.7" y="28.5">value</text></g>
<g id="c4-12" class="o c" transform="translate(2896 312.4)"><rect x="-65" y="-27" width="130" height="54"/><text y="-12">gini = 0.0</text><text y="4">samples = 1.8%</text><text y="20.5">value = [1.0, 0.0]</text></g>

<g id="c3-1" class="c" transform="translate(2123 250)"><rect x="-81" width="162" height="70.5" y="-35.2" fill="#fdf1e9"/><text y="-20">reason &lt;= 1.5</text><text y="-4">gini = 0.498</text><text y="12.5">samples = 7.1%</text><text y="28.5">value = [0.528, 0.472]</text></g>
<g id="c3-2" class="c" transform="translate(2286.5 250)"><rect x="-82.5" width="165" height="70.5" y="-35.2" fill="#f1bc96"/><text y="-20">activities &lt;= 0.5</text><text y="-4">gini = 0.434</text><text y="12.5">samples = 19.5%</text><text y="28.5">value = [0.682, 0.318]</text></g>
<g id="c3-3" class="c" transform="translate(2516.5 250)"><rect x="-82.5" width="165" height="70.5" y="-35.2" fill="#4ba6e7"/><text y="-20">goout &lt;= -1.45</text><text y="-4">gini = 0.153</text><text y="12.5">samples = 42.2%</text><text y="28.5">value = [0.084, 0.916]</text></g>
<g id="c3-4" transform="translate(2686 250)"><rect width="165" height="70.5" y="-35.2" fill="#3c9ee5"/><text x="41" y="-20">Fjob</text><text x="41" y="-4">gini</text><text x="22" y="12.5">samples</text><text x="4.7" y="28.5">value =</text></g>
<g id="c3-5" transform="translate(2743 250)"><rect width="165" height="70.5" y="-35.2" fill="#f8e2d3"/><text x="27" y="-20">goout</text><text x="45" y="-4">gini</text><text x="26" y="12.5">samples</text><text x="4.7" y="28.5">value =</text></g>
<g id="c3-6" class="c" transform="translate(2886.5 250)"><rect x="-82.5" width="165" height="70.5" y="-35.2" fill="#e78a47"/><text y="-20">Pstatus &lt;= 0.5</text><text y="-4">gini = 0.124</text><text y="12.5">samples = 2.2%</text><text y="28.5">value = [0.933, 0.067]</text></g>

<g id="c2-1" class="c" transform="translate(2205.5 187.8)"><rect x="-82.5" width="165" height="70.5" y="-35.2" fill="#f3c7a7"/><text y="-20">internet &lt;= 0.5</text><text y="-4">gini = 0.459</text><text y="12.5">samples = 26.6%</text><text y="28.5">value = [0.643, 0.357]</text></g>
<g id="c2-2" class="c" transform="translate(2642.5 187.8)"><rect x="-82.5" width="165" height="70.5" y="-35.2" fill="#44a2e6"/><text y="-20">reason &lt;= 1.5</text><text y="-4">gini = 0.106</text><text y="12.5">samples = 67.3%</text><text y="28.5">value = [0.056, 0.944]</text></g>
<g id="c2-3" transform="translate(2773 187.8)"><rect width="165" height="70.5" y="-35.2" fill="#e99b62"/><text x="26" y="-20">M</text><text x="26" y="12.5">samples</text><text x="4.7" y="28.5">value</text></g>
<g id="c2-4" class="b c" transform="translate(2876 187.8)"><rect x="-65" y="-27" width="130" height="54"/><text y="-12">gini = 0.0</text><text y="4">samples = 3.0%</text><text y="20.5">value = [0.0, 1.0]</text></g>

<g id="c1-1" class="c" transform="translate(2424 125.7)"><rect x="-83" width="166" height="70.5" y="-35.2" fill="#6db7ec"/><text y="-20">G1 &lt;= -0.652</text><text y="-4">gini = 0.338</text><text y="12.5">samples = 93.9%</text><text y="28.5">value = [0.216, 0.784]</text></g>
<g id="c1-2" class="c" transform="translate(2866 125.7)"><rect x="-83" width="166" height="70.5" y="-35.2" fill="#c2e1f7"/><text y="-20">G2 &lt;= -0.521</text><text y="-4">gini = 0.483</text><text y="12.5">samples = 6.1%</text><text y="28.5">value = [0.409, 0.591]</text></g>
<text class="c" x="2511" y="95">True</text>
<text class="c" x="2781" y="95">False</text>
<g id="c0-1" class="c" transform="translate(2645 63.3)"><rect x="-83" width="166" height="70.5" y="-35.2" fill="#72b9ec"/><text y="-20">Walc &lt;= 1.725</text><text y="-4">gini = 0.35</text><text y="12.5">samples = 100.0%</text><text y="28.5">value = [0.226, 0.774]</text></g>
</g>
</svg>
